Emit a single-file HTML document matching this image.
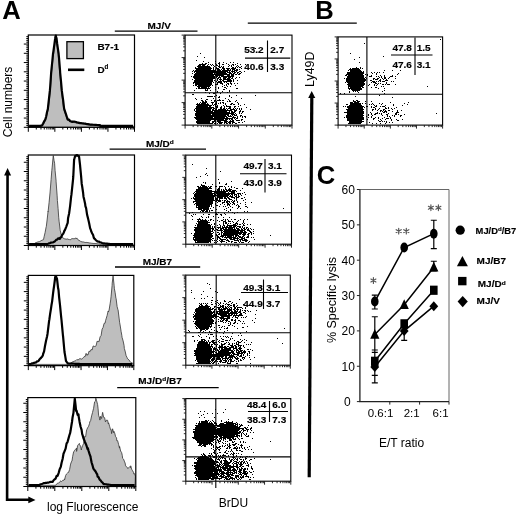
<!DOCTYPE html>
<html><head><meta charset="utf-8"><title>Figure</title>
<style>html,body{margin:0;padding:0;background:#fff;}svg{display:block;will-change:transform;}
text{font-family:"Liberation Sans", sans-serif;fill:#000;}</style></head>
<body><svg width="520" height="515" viewBox="0 0 520 515">
<rect width="520" height="515" fill="#fff"/>
<polygon points="29.1,126.1 30.1,126.1 31.1,126.1 32.1,126.1 33.1,126.1 34.1,126.1 35.1,126.1 36.1,126.1 37.1,126.1 38.1,126.1 39.1,126.1 40.1,126.1 40.4,126.6 41.1,126.1 42.1,126.1 42.4,126.1 43.1,124.85 44.1,123.12 45.1,121.31 45.5,120.6 46.1,118.15 47.1,114.04 48.1,110.15 48.3,109.4 49.1,102.04 50.1,92.78 50.3,91 51.1,79.94 51.6,72.6 52.1,67.93 53.1,57.45 53.5,54.1 54.1,49.29 55.1,42.26 55.4,36.1 55.6,38.6 56.1,38.52 56.1,38.6 57.1,46.02 58.1,53.41 58.2,54.1 59.1,65.62 59.7,72.6 60.1,76.71 61.1,87.68 61.4,91 62.1,96.78 63.1,104.16 63.8,109.4 64.1,110.42 65.1,113.16 66.1,115.91 67.1,119.23 67.4,120.1 68.1,120.45 69.1,120.78 70.1,121.32 71.1,121.86 71.6,122.1 72.1,122.11 73.1,122.34 74.1,122.52 75.1,122.69 76.1,122.82 77.1,123.05 77.6,123.1 78.1,123.24 79.1,123.37 80.1,123.47 81.1,123.72 82.1,123.83 83.1,124.05 84.1,124.14 85.1,124.38 86.1,124.52 87.1,124.65 88.1,124.84 89.1,125.02 89.6,125.1 90.1,125.14 91.1,125.19 92.1,125.26 93.1,125.35 94.1,125.41 95.1,125.49 96.1,125.56 97.1,125.61 98.1,125.7 99.1,125.77 99.6,125.8 100.1,126.1 101.1,126.1 102.1,126.1 103.1,126.1 104.1,126.1 105.1,126.1 106.1,126.1 107.1,126.1 108.1,126.1 109.1,126.1 110.1,126.1 111.1,126.1 112.1,126.1 113.1,126.1 114.1,126.1 115.1,126.1 116.1,126.1 117.1,126.1 118.1,126.1 119.1,126.1 120.1,126.1 121.1,126.1 122.1,126.1 123.1,126.1 124.1,126.1 125.1,126.1 126.1,126.1 127.1,126.1 128.1,126.1 129.1,126.1 130.1,126.1 131.1,126.1 132.1,126.1 133.1,126.1 133.7,127.3 29.1,127.3" fill="#bebebe" stroke="#333" stroke-width="0.8" stroke-linejoin="round"/>
<polyline points="29.1,125.8 30.1,125.8 31.1,125.8 32.1,125.8 33.1,125.8 34.1,125.8 35.1,125.8 36.1,125.8 37.1,125.8 38.1,125.8 39.1,125.8 40,126 40.1,125.8 41.1,125.72 42,125.5 42.1,125.31 43.1,123.5 44.1,121.43 45.1,119.97 45.1,120 46.1,116.81 47.1,111.83 47.9,108.8 48.1,106.36 49.1,97.71 49.9,90.4 50.1,88 51.1,73.51 51.2,72 52.1,63.24 53.1,52.8 53.1,53.5 54.1,46.37 55.1,38.98 55.2,38 55.8,35.5 56.1,37.24 56.5,38 57.1,43.17 58.1,50.15 58.6,53.5 59.1,58.85 60.1,71.28 60.1,72 61.1,82.27 61.8,90.4 62.1,92.85 63.1,99.97 64.1,108.69 64.2,108.8 65.1,111.6 66.1,114.63 67.1,117.73 67.8,119.5 68.1,119.75 69.1,119.72 70.1,121.23 71.1,121.42 72,121.5 72.1,121.84 73.1,121.53 74.1,121.49 75.1,121.73 76.1,121.99 77.1,122.5 78,122.5 78.1,122.66 79.1,122.91 80.1,123.17 81.1,123.09 82.1,123.23 83.1,123.31 84.1,123.48 85.1,123.56 86.1,123.9 87.1,124.05 88.1,124.15 89.1,124.29 90,124.5 90.1,124.54 91.1,124.66 92.1,124.65 93.1,124.73 94.1,124.76 95.1,124.85 96.1,124.91 97.1,124.99 98.1,125.05 99.1,125.15 100,125.2 100.1,125.8 101.1,125.8 102.1,125.8 103.1,125.8 104.1,125.8 105.1,125.8 106.1,125.8 107.1,125.8 108.1,125.8 109.1,125.8 110.1,125.8 111.1,125.8 112.1,125.8 113.1,125.8 114.1,125.8 115.1,125.8 116.1,125.8 117.1,125.8 118.1,125.8 119.1,125.8 120.1,125.8 121.1,125.8 122.1,125.8 123.1,125.8 124.1,125.8 125.1,125.8 126.1,125.8 127.1,125.8 128.1,125.8 129.1,125.8 130.1,125.8 131.1,125.8 132.1,125.8 133.1,125.8" fill="none" stroke="#000" stroke-width="2.2" stroke-linejoin="round"/>
<rect x="28.3" y="35" width="106.2" height="92.3" fill="none" stroke="#000" stroke-width="1.2"/>
<path d="M28.3 127.3v4.5M36.29 127.3v2.2M40.97 127.3v2.2M44.28 127.3v2.2M46.86 127.3v2.2M48.96 127.3v2.2M50.74 127.3v2.2M52.28 127.3v2.2M53.64 127.3v2.2M54.85 127.3v4.5M62.84 127.3v2.2M67.52 127.3v2.2M70.83 127.3v2.2M73.41 127.3v2.2M75.51 127.3v2.2M77.29 127.3v2.2M78.83 127.3v2.2M80.19 127.3v2.2M81.4 127.3v4.5M89.39 127.3v2.2M94.07 127.3v2.2M97.38 127.3v2.2M99.96 127.3v2.2M102.06 127.3v2.2M103.84 127.3v2.2M105.38 127.3v2.2M106.74 127.3v2.2M107.95 127.3v4.5M115.94 127.3v2.2M120.62 127.3v2.2M123.93 127.3v2.2M126.51 127.3v2.2M128.61 127.3v2.2M130.39 127.3v2.2M131.93 127.3v2.2M133.29 127.3v2.2M134.5 127.3v4.5M28.3 127.3h-4.5M28.3 125.45h-2.0M28.3 123.6h-2.0M28.3 121.75h-2.0M28.3 119.9h-2.0M28.3 118.05h-4.5M28.3 116.2h-2.0M28.3 114.35h-2.0M28.3 112.5h-2.0M28.3 110.65h-2.0M28.3 108.8h-4.5M28.3 106.95h-2.0M28.3 105.1h-2.0M28.3 103.25h-2.0M28.3 101.4h-2.0M28.3 99.55h-4.5M28.3 97.7h-2.0M28.3 95.85h-2.0M28.3 94h-2.0M28.3 92.15h-2.0M28.3 90.3h-4.5M28.3 88.45h-2.0M28.3 86.6h-2.0M28.3 84.75h-2.0M28.3 82.9h-2.0M28.3 81.05h-4.5M28.3 79.2h-2.0M28.3 77.35h-2.0M28.3 75.5h-2.0M28.3 73.65h-2.0M28.3 71.8h-4.5M28.3 69.95h-2.0M28.3 68.1h-2.0M28.3 66.25h-2.0M28.3 64.4h-2.0M28.3 62.55h-4.5M28.3 60.7h-2.0M28.3 58.85h-2.0M28.3 57h-2.0M28.3 55.15h-2.0M28.3 53.3h-4.5M28.3 51.45h-2.0M28.3 49.6h-2.0M28.3 47.75h-2.0M28.3 45.9h-2.0M28.3 44.05h-4.5M28.3 42.2h-2.0M28.3 40.35h-2.0M28.3 38.5h-2.0M28.3 36.65h-2.0" stroke="#000" stroke-width="1" fill="none"/>
<polygon points="29.1,244.3 30.1,244.3 31.1,244.3 32.1,244.3 33.1,244.3 34,243.8 34.1,243.77 35.1,243.06 36,242.5 36.1,242.56 37.1,242.24 38.1,241.85 39.1,241.82 39.7,241.5 40.1,241.24 41.1,240.73 42.1,240.11 43.1,239.92 43.5,239.6 44.1,236.77 45.1,232.5 46.1,227.16 46.3,226.6 47.1,220.01 48.1,211.06 48.1,211.6 49.1,202.32 50,193 50.1,191.87 51.1,179.51 51.8,170.6 52.1,167.87 53.1,157.08 53.3,155.7 54.1,160.79 54.6,163.2 55.1,170.63 56.1,180.82 56.1,181.8 57.1,195.15 57.4,200.5 58.1,208.59 58.7,217.2 59.1,221.2 60.1,229.5 60.2,230.3 61.1,234.03 62.1,236.8 62.1,237.13 63.1,237.88 64,238.7 64.1,238.81 65.1,238.82 66.1,239.31 67.1,238.85 68.1,239.23 69.1,239.59 69.6,239.6 70.1,240.01 71.1,239.02 72.1,238.68 73.1,238.61 74.1,238.9 75.1,238.25 76.1,238.1 76.1,238.59 77.1,238.23 78.1,239.9 79.1,240.56 80.1,240.78 80.7,241.5 81.1,241.59 82.1,241.91 83.1,241.9 84.1,242.18 85.1,242.51 86.1,242.4 87.1,242.5 88.1,242.61 89.1,242.91 90.1,243 91.1,243.16 91.9,243.3 92.1,243.31 93.1,243.44 94.1,243.44 95.1,243.51 96.1,243.57 97.1,243.79 98.1,243.84 99.1,243.96 100,244 100.1,244.3 101.1,244.3 102.1,244.3 103.1,244.3 104.1,244.3 105.1,244.3 106.1,244.3 107.1,244.3 108.1,244.3 109.1,244.3 110.1,244.3 111.1,244.3 112.1,244.3 113.1,244.3 114.1,244.3 115.1,244.3 116.1,244.3 117.1,244.3 118.1,244.3 119.1,244.3 120.1,244.3 121.1,244.3 122.1,244.3 123.1,244.3 124.1,244.3 125.1,244.3 126.1,244.3 127.1,244.3 128.1,244.3 129.1,244.3 130.1,244.3 131.1,244.3 132.1,244.3 133.1,244.3 133.7,245.5 29.1,245.5" fill="#bebebe" stroke="#333" stroke-width="0.8" stroke-linejoin="round"/>
<polyline points="29.1,244 30.1,244 31.1,244 32.1,244 33.1,244 34.1,244 35.1,244 36.1,244 37.1,244 38.1,244 39.1,244 40,244.3 40.1,244 41.1,244 42.1,244 43.1,244 44.1,244 45.1,244 46.1,244 47.1,244 47.2,244 48.1,243.73 49.1,243.34 50.1,243.05 51.1,242.54 52.1,242.49 53.1,242.39 54.1,241.8 54.6,241.5 55.1,241.16 56.1,239.92 57.1,239.72 58.1,238.34 59.1,238.84 60.1,238.72 60.2,237.7 61.1,237.3 62.1,235.08 63.1,233.9 64,232.1 64.1,231.36 65.1,229.59 66.1,227.07 67.1,224.36 67.7,222.8 68.1,217.92 69.1,213.49 69.6,209.8 70.1,206.08 71.1,196.8 71.4,194.9 72.1,188.4 73.1,178.87 73.3,176.2 74.1,159.6 74.2,159.5 75.1,156 75.1,156.76 76.1,155.58 77.1,155.04 78.1,156.11 78.9,156 79.1,156.99 80.1,165.63 80.2,166.9 81.1,176.1 81.7,183.7 82.1,185.98 83.1,192.76 83.5,196.7 84.1,199.13 85.1,203.66 85.4,206.1 86.1,208.18 87.1,214.83 88.1,218.62 88.2,219.1 89.1,223.01 90.1,228.1 91,230.3 91.1,231.09 92.1,233.19 93.1,235.09 93.8,237.7 94.1,238.39 95.1,239.22 96.1,240.39 97.1,241.05 97.5,241.5 98.1,241.62 99.1,241.67 100.1,242.41 101.1,242.48 102.1,242.93 103.1,243.3 103.1,243.33 104.1,243.4 105.1,243.5 106.1,243.62 107.1,243.66 108.1,243.81 109.1,243.92 110,244 110.1,244 111.1,244 112.1,244 113.1,244 114.1,244 115.1,244 116.1,244 117.1,244 118.1,244 119.1,244 120.1,244 121.1,244 122.1,244 123.1,244 124.1,244 125.1,244 126.1,244 127.1,244 128.1,244 129.1,244 130.1,244 131.1,244 132.1,244 133.1,244" fill="none" stroke="#000" stroke-width="2.2" stroke-linejoin="round"/>
<rect x="28.3" y="155" width="106.2" height="90.5" fill="none" stroke="#000" stroke-width="1.2"/>
<path d="M28.3 245.5v4.5M36.29 245.5v2.2M40.97 245.5v2.2M44.28 245.5v2.2M46.86 245.5v2.2M48.96 245.5v2.2M50.74 245.5v2.2M52.28 245.5v2.2M53.64 245.5v2.2M54.85 245.5v4.5M62.84 245.5v2.2M67.52 245.5v2.2M70.83 245.5v2.2M73.41 245.5v2.2M75.51 245.5v2.2M77.29 245.5v2.2M78.83 245.5v2.2M80.19 245.5v2.2M81.4 245.5v4.5M89.39 245.5v2.2M94.07 245.5v2.2M97.38 245.5v2.2M99.96 245.5v2.2M102.06 245.5v2.2M103.84 245.5v2.2M105.38 245.5v2.2M106.74 245.5v2.2M107.95 245.5v4.5M115.94 245.5v2.2M120.62 245.5v2.2M123.93 245.5v2.2M126.51 245.5v2.2M128.61 245.5v2.2M130.39 245.5v2.2M131.93 245.5v2.2M133.29 245.5v2.2M134.5 245.5v4.5M28.3 245.5h-4.5M28.3 243.65h-2.0M28.3 241.8h-2.0M28.3 239.95h-2.0M28.3 238.1h-2.0M28.3 236.25h-4.5M28.3 234.4h-2.0M28.3 232.55h-2.0M28.3 230.7h-2.0M28.3 228.85h-2.0M28.3 227h-4.5M28.3 225.15h-2.0M28.3 223.3h-2.0M28.3 221.45h-2.0M28.3 219.6h-2.0M28.3 217.75h-4.5M28.3 215.9h-2.0M28.3 214.05h-2.0M28.3 212.2h-2.0M28.3 210.35h-2.0M28.3 208.5h-4.5M28.3 206.65h-2.0M28.3 204.8h-2.0M28.3 202.95h-2.0M28.3 201.1h-2.0M28.3 199.25h-4.5M28.3 197.4h-2.0M28.3 195.55h-2.0M28.3 193.7h-2.0M28.3 191.85h-2.0M28.3 190h-4.5M28.3 188.15h-2.0M28.3 186.3h-2.0M28.3 184.45h-2.0M28.3 182.6h-2.0M28.3 180.75h-4.5M28.3 178.9h-2.0M28.3 177.05h-2.0M28.3 175.2h-2.0M28.3 173.35h-2.0M28.3 171.5h-4.5M28.3 169.65h-2.0M28.3 167.8h-2.0M28.3 165.95h-2.0M28.3 164.1h-2.0M28.3 162.25h-4.5M28.3 160.4h-2.0M28.3 158.55h-2.0M28.3 156.7h-2.0" stroke="#000" stroke-width="1" fill="none"/>
<polygon points="29.1,364.4 30.1,364.4 31.1,364.4 32.1,364.4 33.1,364.4 34.1,364.4 35.1,364.4 36.1,364.4 37.1,364.4 38.1,364.4 39.1,364.4 40.1,364.4 41.1,364.4 42.1,364.4 43.1,364.4 44.1,364.4 45.1,364.4 46.1,364.4 47.1,364.4 48.1,364.4 49.1,364.4 50.1,364.4 51.1,364.4 52.1,364.4 53.1,364.4 54.1,364.4 55.1,364.4 56.1,364.4 57.1,364.4 58.1,364.4 59.1,364.4 60.1,364.4 61.1,364.4 62.1,364.4 63.1,364.4 64.1,364.4 65.1,364.4 66.1,364.4 67.1,364.4 68.1,364.4 69.1,364.4 70,363.5 70.1,363.51 71.1,362.8 72.1,362.07 73.1,361.73 74.1,361.13 75.1,361.11 76.1,360.33 76.8,359.6 77.1,359.64 78.1,359.93 79.1,359.08 80.1,358.51 81.1,359.16 82.1,358.99 82.4,358.6 83.1,357.89 84.1,356.64 85.1,356.57 86.1,353.36 87.1,355.41 88,354 88.1,354.38 89.1,351.09 90.1,351.64 91.1,349.46 92.1,350.03 93.1,346.08 94.1,346.05 94.5,346.5 95.1,346.49 96.1,345.74 97.1,341.23 98.1,341.7 99.1,341 99.1,341.33 100.1,336.85 101.1,335.51 102.1,329.19 102.8,327.9 103.1,327.45 104.1,323.37 105.1,323.15 105.6,320.4 106.1,318.88 107.1,315.53 108.1,311.18 108.4,312 109.1,310 110.1,303.81 110.7,299.9 111.1,296.2 112.1,285.45 112.2,283.2 113.1,275.9 113.1,276.25 114.1,285.18 114.4,288.8 115.1,292.34 115.9,298.1 116.1,298.48 117.1,306.54 117.8,309.3 118.1,310.01 119.1,318.09 119.6,322.3 120.1,324.93 121.1,331.39 121.8,335.3 122.1,337.45 123.1,340.86 124.1,345.62 124.3,348.4 125.1,351.05 126.1,355.59 127.1,357.7 127.1,358.21 128.1,359.09 129.1,360.11 130.1,361.6 130.8,362.4 131.1,362.48 132.1,363.05 133,363.3 133,365.6 29.1,365.6" fill="#bebebe" stroke="#333" stroke-width="0.8" stroke-linejoin="round"/>
<polyline points="29.1,364.1 30,364 30.1,363.96 31.1,363.74 32.1,363.42 33.1,363.29 34.1,362.85 35.1,362.66 36,362.5 36.1,362.36 37.1,361.42 38.1,361.28 39,360.5 39.1,359.97 40.1,358.67 41,358 41.1,357.6 42.1,356.75 43,355 43.1,354.01 44.1,351.44 45,346 45.1,345.5 46.1,340.52 47.1,336.23 47.5,334 48.1,329.24 49.1,320.82 49.3,320 50.1,314.16 51.1,307.84 51.5,305 52.1,301.6 53.1,293.18 53.5,290 54.1,285.93 55,279 55.1,277.18 56,276.5 56.1,276.56 57,279 57.1,279.71 58.1,288.3 58.5,290 59.1,297.12 60,305 60.1,306.08 61.1,316.37 61.5,320 62.1,326.35 63,336 63.1,336.56 64.1,347.74 64.5,352 65.1,355.38 66,361 66.1,361.19 67.1,362.46 68,363.5 68.1,363.5 69.1,363.59 70.1,363.55 71.1,363.63 72.1,363.68 73.1,363.66 74.1,363.77 75.1,363.81 76.1,363.87 77.1,363.88 78.1,363.93 79.1,363.97 80,364 80.1,364.1 81.1,364.1 82.1,364.1 83.1,364.1 84.1,364.1 85.1,364.1 86.1,364.1 87.1,364.1 88.1,364.1 89.1,364.1 90.1,364.1 91.1,364.1 92.1,364.1 93.1,364.1 94.1,364.1 95.1,364.1 96.1,364.1 97.1,364.1 98.1,364.1 99.1,364.1 100.1,364.1 101.1,364.1 102.1,364.1 103.1,364.1 104.1,364.1 105.1,364.1 106.1,364.1 107.1,364.1 108.1,364.1 109.1,364.1 110.1,364.1 111.1,364.1 112.1,364.1 113.1,364.1 114.1,364.1 115.1,364.1 116.1,364.1 117.1,364.1 118.1,364.1 119.1,364.1 120.1,364.1 121.1,364.1 122.1,364.1 123.1,364.1 124.1,364.1 125.1,364.1 126.1,364.1 127.1,364.1 128.1,364.1 129.1,364.1 130.1,364.1 131.1,364.1 132.1,364.1" fill="none" stroke="#000" stroke-width="2.2" stroke-linejoin="round"/>
<rect x="28.3" y="275.4" width="105.5" height="90.2" fill="none" stroke="#000" stroke-width="1.2"/>
<path d="M28.3 365.6v4.5M36.24 365.6v2.2M40.88 365.6v2.2M44.18 365.6v2.2M46.74 365.6v2.2M48.82 365.6v2.2M50.59 365.6v2.2M52.12 365.6v2.2M53.47 365.6v2.2M54.68 365.6v4.5M62.61 365.6v2.2M67.26 365.6v2.2M70.55 365.6v2.2M73.11 365.6v2.2M75.2 365.6v2.2M76.96 365.6v2.2M78.49 365.6v2.2M79.84 365.6v2.2M81.05 365.6v4.5M88.99 365.6v2.2M93.63 365.6v2.2M96.93 365.6v2.2M99.49 365.6v2.2M101.57 365.6v2.2M103.34 365.6v2.2M104.87 365.6v2.2M106.22 365.6v2.2M107.43 365.6v4.5M115.36 365.6v2.2M120.01 365.6v2.2M123.3 365.6v2.2M125.86 365.6v2.2M127.95 365.6v2.2M129.71 365.6v2.2M131.24 365.6v2.2M132.59 365.6v2.2M133.8 365.6v4.5M28.3 365.6h-4.5M28.3 363.75h-2.0M28.3 361.9h-2.0M28.3 360.05h-2.0M28.3 358.2h-2.0M28.3 356.35h-4.5M28.3 354.5h-2.0M28.3 352.65h-2.0M28.3 350.8h-2.0M28.3 348.95h-2.0M28.3 347.1h-4.5M28.3 345.25h-2.0M28.3 343.4h-2.0M28.3 341.55h-2.0M28.3 339.7h-2.0M28.3 337.85h-4.5M28.3 336h-2.0M28.3 334.15h-2.0M28.3 332.3h-2.0M28.3 330.45h-2.0M28.3 328.6h-4.5M28.3 326.75h-2.0M28.3 324.9h-2.0M28.3 323.05h-2.0M28.3 321.2h-2.0M28.3 319.35h-4.5M28.3 317.5h-2.0M28.3 315.65h-2.0M28.3 313.8h-2.0M28.3 311.95h-2.0M28.3 310.1h-4.5M28.3 308.25h-2.0M28.3 306.4h-2.0M28.3 304.55h-2.0M28.3 302.7h-2.0M28.3 300.85h-4.5M28.3 299h-2.0M28.3 297.15h-2.0M28.3 295.3h-2.0M28.3 293.45h-2.0M28.3 291.6h-4.5M28.3 289.75h-2.0M28.3 287.9h-2.0M28.3 286.05h-2.0M28.3 284.2h-2.0M28.3 282.35h-4.5M28.3 280.5h-2.0M28.3 278.65h-2.0M28.3 276.8h-2.0" stroke="#000" stroke-width="1" fill="none"/>
<polygon points="28.6,485.3 29.6,485.3 30.6,485.3 31.6,485.3 32.6,485.3 33.6,485.3 34.6,485.3 35.6,485.3 36.6,485.3 37.6,485.3 38.6,485.3 39.6,485.3 40.6,485.3 41.6,485.3 42.6,485.3 43.6,485.3 44.6,485.3 45.6,485.3 46.6,485.3 47.6,485.3 48.6,485.3 49.6,485.3 50.6,485.3 51.6,485.3 52.6,485.3 53.6,485.3 54.6,485.3 55.6,485.3 56,484.5 56.6,484.34 57.6,483.16 58,483.5 58.6,482.95 59.6,482.47 60.6,480.8 61.6,481.64 62.6,480.39 63.6,480.47 64.5,478.9 64.6,479.73 65.6,475.63 66.6,473.88 67.6,473.04 68.2,472.3 68.6,472.32 69.6,469.54 70.6,464.09 71.6,461.31 72,461.1 72.6,456.72 73.6,451.9 73.8,451.8 74.6,450.36 75.6,449.21 76.6,448.1 76.6,451.39 77.6,445.61 78.6,444.28 79.4,443.4 79.6,444.83 80.6,446.04 81.3,450 81.6,448.4 82.6,445.66 83.6,443.52 84.1,440.6 84.6,436.49 85.6,436.79 86.6,430.04 86.9,429.4 87.6,427.82 88.6,426.26 89.6,423.32 89.7,422 90.6,420.67 91.6,415.9 92.5,412.6 92.6,412.13 93.6,408.31 94.6,401.84 95.6,401.02 95.8,398.2 96.6,400.68 97.6,404.56 98.1,408.9 98.6,415.3 99.6,418.02 99.9,420.1 100.6,416.34 101.6,418.51 102.6,412.34 102.7,412.6 103.6,417.32 104.6,417.65 105.5,422 105.6,421.67 106.6,420.01 107.6,420.3 108.3,423.8 108.6,422.84 109.6,426.28 110.6,429.68 111.1,429.4 111.6,433.62 112.6,428.77 113.6,432.71 113.9,431.3 114.6,432.66 115.6,436.7 116.6,437.9 116.7,440.6 117.6,440.64 118.6,444.44 119.5,448.1 119.6,446.46 120.6,451 121.6,452.53 122.3,455.5 122.6,458.3 123.6,459.23 124.6,461.93 125.1,463 125.6,465.82 126.6,466.83 127.6,467.94 127.9,468.6 128.6,467.75 129.6,466.71 130.6,467.62 130.7,465.8 131.6,469.14 132.6,470.8 133.5,472.3 133.6,473.78 134.6,473.63 135.4,476.1 135,486.5 28.6,486.5" fill="#bebebe" stroke="#333" stroke-width="0.8" stroke-linejoin="round"/>
<polyline points="28.6,485 29.6,485 30.6,485 31.6,485 32.6,485 33.6,485 34.6,485 35.6,485 36.6,485 37.6,485 38.6,485 39.6,485 40,484.5 40.6,484.29 41.6,484.01 42.6,483.67 43.6,483.12 44,483.1 44.6,483.25 45.6,482.88 46.6,482.82 47.6,482.56 48.6,482.65 49.6,482.1 50.6,481.87 51.6,481.92 52.4,481.7 52.6,481.81 53.6,480.27 54.6,479.46 55.6,478.67 56.6,475.88 57.1,476.1 57.6,475.81 58.6,473.1 59.6,469.42 60.6,467.18 60.8,466.7 61.6,462.67 62.6,458.94 63.6,453.28 63.6,453.7 64.6,451.14 65.6,448.64 66.6,443.41 67.3,442.5 67.6,441.82 68.6,438.15 69.6,434.53 70.1,433.2 70.6,430.58 71.6,424.28 72,422 72.6,417.17 73.5,412.6 73.6,411.12 74.6,400.83 74.8,398.7 75.6,405.63 76.1,410.8 76.6,410.64 77.6,414.86 78.5,414.5 78.6,416.12 79.6,421.91 80.4,425.7 80.6,426.72 81.6,429.86 82.2,434.1 82.6,435.11 83.6,438.68 84.6,440.99 85,442.5 85.6,443.29 86.6,445.95 87.6,449.2 87.8,448.1 88.6,450.99 89.6,454.19 90.6,456.92 90.6,457.4 91.6,462.51 92.6,465.69 93.4,468.6 93.6,468.93 94.6,470.23 95.6,471.52 96.6,473.57 97.2,474.2 97.6,476.57 98.6,477.23 99.6,479.47 99.9,479.8 100.6,480.39 101.6,481.79 102.6,482.59 103.6,484.02 103.7,484 104.6,484.09 105.6,484.28 106.6,484.38 107.6,484.55 108.6,484.64 109.6,484.76 110,484.8 110.6,485 111.6,485 112.6,485 113.6,485 114.6,485 115.6,485 116.6,485 117.6,485 118.6,485 119.6,485 120.6,485 121.6,485 122.6,485 123.6,485 124.6,485 125.6,485 126.6,485 127.6,485 128.6,485 129.6,485 130.6,485 131.6,485 132.6,485 133.6,485 134.6,485" fill="none" stroke="#000" stroke-width="2.2" stroke-linejoin="round"/>
<rect x="27.8" y="397.6" width="108" height="88.9" fill="none" stroke="#000" stroke-width="1.2"/>
<path d="M27.8 486.5v4.5M35.93 486.5v2.2M40.68 486.5v2.2M44.06 486.5v2.2M46.67 486.5v2.2M48.81 486.5v2.2M50.62 486.5v2.2M52.18 486.5v2.2M53.56 486.5v2.2M54.8 486.5v4.5M62.93 486.5v2.2M67.68 486.5v2.2M71.06 486.5v2.2M73.67 486.5v2.2M75.81 486.5v2.2M77.62 486.5v2.2M79.18 486.5v2.2M80.56 486.5v2.2M81.8 486.5v4.5M89.93 486.5v2.2M94.68 486.5v2.2M98.06 486.5v2.2M100.67 486.5v2.2M102.81 486.5v2.2M104.62 486.5v2.2M106.18 486.5v2.2M107.56 486.5v2.2M108.8 486.5v4.5M116.93 486.5v2.2M121.68 486.5v2.2M125.06 486.5v2.2M127.67 486.5v2.2M129.81 486.5v2.2M131.62 486.5v2.2M133.18 486.5v2.2M134.56 486.5v2.2M135.8 486.5v4.5M27.8 486.5h-4.5M27.8 484.65h-2.0M27.8 482.8h-2.0M27.8 480.95h-2.0M27.8 479.1h-2.0M27.8 477.25h-4.5M27.8 475.4h-2.0M27.8 473.55h-2.0M27.8 471.7h-2.0M27.8 469.85h-2.0M27.8 468h-4.5M27.8 466.15h-2.0M27.8 464.3h-2.0M27.8 462.45h-2.0M27.8 460.6h-2.0M27.8 458.75h-4.5M27.8 456.9h-2.0M27.8 455.05h-2.0M27.8 453.2h-2.0M27.8 451.35h-2.0M27.8 449.5h-4.5M27.8 447.65h-2.0M27.8 445.8h-2.0M27.8 443.95h-2.0M27.8 442.1h-2.0M27.8 440.25h-4.5M27.8 438.4h-2.0M27.8 436.55h-2.0M27.8 434.7h-2.0M27.8 432.85h-2.0M27.8 431h-4.5M27.8 429.15h-2.0M27.8 427.3h-2.0M27.8 425.45h-2.0M27.8 423.6h-2.0M27.8 421.75h-4.5M27.8 419.9h-2.0M27.8 418.05h-2.0M27.8 416.2h-2.0M27.8 414.35h-2.0M27.8 412.5h-4.5M27.8 410.65h-2.0M27.8 408.8h-2.0M27.8 406.95h-2.0M27.8 405.1h-2.0M27.8 403.25h-4.5M27.8 401.4h-2.0M27.8 399.55h-2.0" stroke="#000" stroke-width="1" fill="none"/>
<path d="M255 48h1v1h-1zM200 53h1v1h-1zM197 56h1v1h-1zM204 57h1v1h-1zM196 60h1v1h-1zM203 61h1v1h-1zM215 61h1v1h-1zM208 62h1v1h-1zM219 62h1v1h-1zM223 62h1v1h-1zM230 62h1v1h-1zM233 62h1v1h-1zM202 63h1v1h-1zM205 63h2v1h-2zM215 63h1v1h-1zM218 63h2v1h-2zM226 63h1v1h-1zM237 63h1v1h-1zM199 64h7v1h-7zM208 64h1v1h-1zM210 64h1v1h-1zM212 64h1v1h-1zM216 64h1v1h-1zM219 64h1v1h-1zM222 64h2v1h-2zM228 64h1v1h-1zM232 64h2v1h-2zM235 64h1v1h-1zM240 64h1v1h-1zM245 64h1v1h-1zM198 65h3v1h-3zM202 65h3v1h-3zM207 65h1v1h-1zM211 65h1v1h-1zM213 65h1v1h-1zM216 65h2v1h-2zM219 65h1v1h-1zM229 65h1v1h-1zM231 65h1v1h-1zM233 65h1v1h-1zM237 65h1v1h-1zM197 66h13v1h-13zM214 66h1v1h-1zM218 66h2v1h-2zM221 66h1v1h-1zM223 66h1v1h-1zM228 66h1v1h-1zM231 66h1v1h-1zM236 66h1v1h-1zM238 66h1v1h-1zM241 66h1v1h-1zM281 66h1v1h-1zM195 67h1v1h-1zM198 67h13v1h-13zM213 67h1v1h-1zM216 67h1v1h-1zM219 67h2v1h-2zM222 67h2v1h-2zM232 67h2v1h-2zM235 67h1v1h-1zM237 67h1v1h-1zM239 67h2v1h-2zM195 68h17v1h-17zM213 68h1v1h-1zM216 68h3v1h-3zM222 68h3v1h-3zM226 68h4v1h-4zM231 68h5v1h-5zM241 68h1v1h-1zM196 69h15v1h-15zM213 69h1v1h-1zM215 69h1v1h-1zM217 69h3v1h-3zM221 69h1v1h-1zM223 69h2v1h-2zM227 69h2v1h-2zM230 69h1v1h-1zM232 69h3v1h-3zM236 69h2v1h-2zM239 69h1v1h-1zM193 70h1v1h-1zM195 70h21v1h-21zM217 70h4v1h-4zM222 70h9v1h-9zM232 70h1v1h-1zM234 70h4v1h-4zM192 71h1v1h-1zM194 71h34v1h-34zM229 71h1v1h-1zM231 71h4v1h-4zM236 71h1v1h-1zM239 71h2v1h-2zM244 71h1v1h-1zM194 72h1v1h-1zM196 72h30v1h-30zM227 72h4v1h-4zM232 72h1v1h-1zM234 72h2v1h-2zM237 72h2v1h-2zM241 72h1v1h-1zM192 73h1v1h-1zM195 73h18v1h-18zM214 73h1v1h-1zM216 73h11v1h-11zM229 73h3v1h-3zM233 73h2v1h-2zM237 73h1v1h-1zM239 73h2v1h-2zM194 74h36v1h-36zM231 74h3v1h-3zM235 74h2v1h-2zM238 74h2v1h-2zM194 75h20v1h-20zM215 75h9v1h-9zM227 75h3v1h-3zM231 75h3v1h-3zM191 76h1v1h-1zM193 76h22v1h-22zM216 76h2v1h-2zM219 76h1v1h-1zM221 76h13v1h-13zM193 77h22v1h-22zM216 77h1v1h-1zM218 77h3v1h-3zM223 77h4v1h-4zM228 77h3v1h-3zM232 77h1v1h-1zM236 77h1v1h-1zM239 77h1v1h-1zM194 78h21v1h-21zM217 78h2v1h-2zM220 78h1v1h-1zM223 78h3v1h-3zM227 78h3v1h-3zM231 78h2v1h-2zM235 78h1v1h-1zM192 79h1v1h-1zM195 79h18v1h-18zM217 79h1v1h-1zM219 79h3v1h-3zM223 79h8v1h-8zM233 79h1v1h-1zM194 80h19v1h-19zM214 80h1v1h-1zM217 80h1v1h-1zM220 80h1v1h-1zM222 80h2v1h-2zM227 80h5v1h-5zM233 80h1v1h-1zM237 80h1v1h-1zM194 81h19v1h-19zM216 81h1v1h-1zM218 81h4v1h-4zM223 81h9v1h-9zM233 81h1v1h-1zM193 82h19v1h-19zM213 82h1v1h-1zM217 82h5v1h-5zM224 82h1v1h-1zM226 82h1v1h-1zM230 82h1v1h-1zM193 83h1v1h-1zM195 83h17v1h-17zM217 83h1v1h-1zM220 83h3v1h-3zM227 83h2v1h-2zM230 83h2v1h-2zM234 83h1v1h-1zM237 83h1v1h-1zM195 84h17v1h-17zM215 84h3v1h-3zM222 84h1v1h-1zM226 84h1v1h-1zM228 84h1v1h-1zM231 84h1v1h-1zM193 85h1v1h-1zM195 85h2v1h-2zM198 85h13v1h-13zM212 85h1v1h-1zM224 85h1v1h-1zM226 85h1v1h-1zM235 85h1v1h-1zM197 86h13v1h-13zM222 86h1v1h-1zM227 86h1v1h-1zM230 86h1v1h-1zM198 87h2v1h-2zM201 87h6v1h-6zM208 87h1v1h-1zM210 87h1v1h-1zM215 87h1v1h-1zM218 87h1v1h-1zM224 87h2v1h-2zM196 88h1v1h-1zM198 88h12v1h-12zM218 88h1v1h-1zM226 88h1v1h-1zM236 88h2v1h-2zM205 89h1v1h-1zM207 89h1v1h-1zM215 89h1v1h-1zM223 89h2v1h-2zM194 90h1v1h-1zM205 90h3v1h-3zM210 90h1v1h-1zM229 90h1v1h-1zM217 91h1v1h-1zM222 91h1v1h-1zM229 91h1v1h-1zM205 92h1v1h-1zM217 92h1v1h-1zM227 92h1v1h-1zM209 93h1v1h-1zM213 93h2v1h-2zM220 93h1v1h-1zM192 94h2v1h-2zM216 95h1v1h-1zM229 95h1v1h-1zM236 95h1v1h-1zM255 95h1v1h-1zM207 96h6v1h-6zM214 96h1v1h-1zM219 96h1v1h-1zM229 96h1v1h-1zM218 97h2v1h-2zM231 97h1v1h-1zM195 98h1v1h-1zM201 98h1v1h-1zM213 98h1v1h-1zM225 98h1v1h-1zM241 98h1v1h-1zM196 99h1v1h-1zM206 99h2v1h-2zM219 99h1v1h-1zM228 99h1v1h-1zM201 100h2v1h-2zM205 100h1v1h-1zM211 100h1v1h-1zM214 100h2v1h-2zM217 100h4v1h-4zM222 100h2v1h-2zM229 100h1v1h-1zM236 100h1v1h-1zM202 101h2v1h-2zM205 101h2v1h-2zM214 101h1v1h-1zM216 101h1v1h-1zM227 101h1v1h-1zM229 101h2v1h-2zM235 101h1v1h-1zM200 102h1v1h-1zM202 102h5v1h-5zM211 102h3v1h-3zM216 102h1v1h-1zM220 102h1v1h-1zM222 102h2v1h-2zM237 102h1v1h-1zM197 103h1v1h-1zM199 103h1v1h-1zM201 103h5v1h-5zM207 103h1v1h-1zM212 103h1v1h-1zM215 103h2v1h-2zM218 103h1v1h-1zM220 103h1v1h-1zM223 103h1v1h-1zM225 103h1v1h-1zM231 103h2v1h-2zM238 103h1v1h-1zM196 104h13v1h-13zM212 104h1v1h-1zM214 104h3v1h-3zM225 104h1v1h-1zM230 104h2v1h-2zM233 104h2v1h-2zM238 104h1v1h-1zM244 104h1v1h-1zM197 105h15v1h-15zM213 105h1v1h-1zM215 105h1v1h-1zM217 105h1v1h-1zM223 105h1v1h-1zM226 105h1v1h-1zM240 105h1v1h-1zM196 106h12v1h-12zM209 106h2v1h-2zM215 106h3v1h-3zM221 106h1v1h-1zM224 106h1v1h-1zM226 106h5v1h-5zM234 106h2v1h-2zM238 106h1v1h-1zM196 107h18v1h-18zM216 107h2v1h-2zM220 107h2v1h-2zM224 107h1v1h-1zM229 107h2v1h-2zM234 107h1v1h-1zM246 107h1v1h-1zM195 108h17v1h-17zM213 108h2v1h-2zM216 108h1v1h-1zM220 108h2v1h-2zM223 108h2v1h-2zM226 108h1v1h-1zM228 108h3v1h-3zM233 108h1v1h-1zM235 108h1v1h-1zM237 108h1v1h-1zM239 108h1v1h-1zM241 108h1v1h-1zM194 109h1v1h-1zM196 109h15v1h-15zM212 109h2v1h-2zM215 109h2v1h-2zM218 109h8v1h-8zM227 109h1v1h-1zM230 109h5v1h-5zM236 109h1v1h-1zM239 109h1v1h-1zM241 109h1v1h-1zM250 109h1v1h-1zM194 110h1v1h-1zM196 110h15v1h-15zM212 110h20v1h-20zM234 110h3v1h-3zM240 110h1v1h-1zM195 111h18v1h-18zM214 111h13v1h-13zM229 111h1v1h-1zM231 111h2v1h-2zM234 111h2v1h-2zM239 111h2v1h-2zM242 111h2v1h-2zM196 112h34v1h-34zM231 112h4v1h-4zM239 112h1v1h-1zM242 112h1v1h-1zM195 113h39v1h-39zM235 113h1v1h-1zM239 113h1v1h-1zM241 113h1v1h-1zM195 114h16v1h-16zM212 114h17v1h-17zM231 114h4v1h-4zM236 114h1v1h-1zM195 115h31v1h-31zM227 115h2v1h-2zM230 115h1v1h-1zM232 115h1v1h-1zM234 115h3v1h-3zM240 115h2v1h-2zM196 116h31v1h-31zM228 116h4v1h-4zM233 116h1v1h-1zM237 116h1v1h-1zM240 116h1v1h-1zM242 116h1v1h-1zM244 116h2v1h-2zM194 117h19v1h-19zM214 117h11v1h-11zM226 117h2v1h-2zM232 117h4v1h-4zM237 117h1v1h-1zM242 117h1v1h-1zM245 117h1v1h-1zM195 118h38v1h-38zM234 118h1v1h-1zM236 118h2v1h-2zM196 119h28v1h-28zM225 119h3v1h-3zM229 119h1v1h-1zM231 119h2v1h-2zM235 119h1v1h-1zM241 119h2v1h-2zM197 120h14v1h-14zM214 120h2v1h-2zM217 120h10v1h-10zM230 120h1v1h-1zM232 120h2v1h-2zM236 120h4v1h-4zM241 120h1v1h-1zM196 121h14v1h-14zM212 121h4v1h-4zM217 121h4v1h-4zM224 121h4v1h-4zM229 121h5v1h-5zM244 121h1v1h-1zM196 122h14v1h-14zM212 122h2v1h-2zM215 122h1v1h-1zM218 122h5v1h-5zM224 122h3v1h-3zM228 122h3v1h-3zM232 122h3v1h-3zM238 122h2v1h-2zM242 122h1v1h-1zM197 123h16v1h-16zM214 123h2v1h-2zM217 123h1v1h-1zM219 123h3v1h-3zM224 123h1v1h-1zM226 123h2v1h-2zM229 123h2v1h-2zM232 123h1v1h-1zM235 123h2v1h-2z" fill="#000"/>
<rect x="185.1" y="35.1" width="106.9" height="90" fill="none" stroke="#000" stroke-width="1.1"/>
<path d="M215.8 35.1V125.1 M185.1 92.8H292" stroke="#000" stroke-width="1.1"/>
<path d="M185.1 125.1v3.5M193.15 125.1v2M197.85 125.1v2M201.19 125.1v2M203.78 125.1v2M205.9 125.1v2M207.69 125.1v2M209.24 125.1v2M210.6 125.1v2M211.82 125.1v3.5M219.87 125.1v2M224.58 125.1v2M227.92 125.1v2M230.5 125.1v2M232.62 125.1v2M234.41 125.1v2M235.96 125.1v2M237.33 125.1v2M238.55 125.1v3.5M246.6 125.1v2M251.3 125.1v2M254.64 125.1v2M257.23 125.1v2M259.35 125.1v2M261.14 125.1v2M262.69 125.1v2M264.05 125.1v2M265.27 125.1v3.5M273.32 125.1v2M278.03 125.1v2M281.37 125.1v2M283.95 125.1v2M286.07 125.1v2M287.86 125.1v2M289.41 125.1v2M290.78 125.1v2M292 125.1v3.5M185.1 125.1h-3.5M185.1 118.33h-2M185.1 114.36h-2M185.1 111.55h-2M185.1 109.37h-2M185.1 107.59h-2M185.1 106.09h-2M185.1 104.78h-2M185.1 103.63h-2M185.1 102.6h-3.5M185.1 95.83h-2M185.1 91.86h-2M185.1 89.05h-2M185.1 86.87h-2M185.1 85.09h-2M185.1 83.59h-2M185.1 82.28h-2M185.1 81.13h-2M185.1 80.1h-3.5M185.1 73.33h-2M185.1 69.36h-2M185.1 66.55h-2M185.1 64.37h-2M185.1 62.59h-2M185.1 61.09h-2M185.1 59.78h-2M185.1 58.63h-2M185.1 57.6h-3.5M185.1 50.83h-2M185.1 46.86h-2M185.1 44.05h-2M185.1 41.87h-2M185.1 40.09h-2M185.1 38.59h-2M185.1 37.28h-2M185.1 36.13h-2M185.1 35.1h-3.5" stroke="#111" stroke-width="0.9" fill="none"/>
<path d="M245 58.1H290.3 M267.5 40.4V72" stroke="#000" stroke-width="1.1"/>
<text transform="translate(263.6,53.3) scale(1.087,1)" font-size="9.2" font-weight="bold" stroke="#000" stroke-width="0.15" text-anchor="end">53.2</text>
<text transform="translate(270.3,53.3) scale(1.087,1)" font-size="9.2" font-weight="bold" stroke="#000" stroke-width="0.15">2.7</text>
<text transform="translate(263.6,70.3) scale(1.087,1)" font-size="9.2" font-weight="bold" stroke="#000" stroke-width="0.15" text-anchor="end">40.6</text>
<text transform="translate(270.3,70.3) scale(1.087,1)" font-size="9.2" font-weight="bold" stroke="#000" stroke-width="0.15">3.3</text>
<path d="M192 164h1v1h-1zM206 168h1v1h-1zM220 171h1v1h-1zM206 173h1v1h-1zM205 174h1v1h-1zM207 175h1v1h-1zM200 176h1v1h-1zM196 177h1v1h-1zM218 179h1v1h-1zM231 181h1v1h-1zM203 182h1v1h-1zM205 182h1v1h-1zM219 182h1v1h-1zM205 183h1v1h-1zM219 183h1v1h-1zM226 183h1v1h-1zM201 184h1v1h-1zM212 184h1v1h-1zM225 184h2v1h-2zM256 184h1v1h-1zM201 185h4v1h-4zM197 186h2v1h-2zM200 186h1v1h-1zM202 186h5v1h-5zM208 186h1v1h-1zM210 186h2v1h-2zM215 186h2v1h-2zM219 186h4v1h-4zM224 186h1v1h-1zM228 186h1v1h-1zM231 186h1v1h-1zM198 187h10v1h-10zM209 187h2v1h-2zM219 187h1v1h-1zM225 187h1v1h-1zM231 187h1v1h-1zM234 187h1v1h-1zM198 188h14v1h-14zM218 188h2v1h-2zM225 188h1v1h-1zM229 188h1v1h-1zM236 188h2v1h-2zM242 188h1v1h-1zM196 189h13v1h-13zM217 189h3v1h-3zM221 189h1v1h-1zM223 189h1v1h-1zM225 189h2v1h-2zM228 189h4v1h-4zM196 190h16v1h-16zM215 190h1v1h-1zM217 190h3v1h-3zM221 190h1v1h-1zM223 190h2v1h-2zM226 190h5v1h-5zM232 190h4v1h-4zM240 190h1v1h-1zM195 191h33v1h-33zM229 191h6v1h-6zM236 191h1v1h-1zM194 192h1v1h-1zM196 192h16v1h-16zM214 192h12v1h-12zM228 192h1v1h-1zM231 192h4v1h-4zM244 192h1v1h-1zM193 193h1v1h-1zM195 193h20v1h-20zM216 193h19v1h-19zM237 193h4v1h-4zM242 193h1v1h-1zM194 194h19v1h-19zM214 194h2v1h-2zM217 194h13v1h-13zM231 194h2v1h-2zM234 194h3v1h-3zM238 194h1v1h-1zM240 194h1v1h-1zM245 194h1v1h-1zM194 195h35v1h-35zM230 195h1v1h-1zM232 195h1v1h-1zM234 195h1v1h-1zM236 195h1v1h-1zM238 195h1v1h-1zM241 195h1v1h-1zM194 196h21v1h-21zM217 196h11v1h-11zM229 196h4v1h-4zM235 196h2v1h-2zM238 196h2v1h-2zM193 197h1v1h-1zM195 197h19v1h-19zM215 197h1v1h-1zM217 197h6v1h-6zM224 197h2v1h-2zM227 197h2v1h-2zM231 197h4v1h-4zM236 197h3v1h-3zM244 197h1v1h-1zM191 198h1v1h-1zM193 198h21v1h-21zM215 198h3v1h-3zM219 198h4v1h-4zM224 198h3v1h-3zM228 198h2v1h-2zM234 198h1v1h-1zM236 198h1v1h-1zM241 198h2v1h-2zM194 199h20v1h-20zM215 199h3v1h-3zM219 199h1v1h-1zM226 199h1v1h-1zM229 199h3v1h-3zM236 199h1v1h-1zM245 199h1v1h-1zM195 200h20v1h-20zM216 200h5v1h-5zM222 200h1v1h-1zM224 200h2v1h-2zM227 200h1v1h-1zM232 200h1v1h-1zM234 200h1v1h-1zM236 200h1v1h-1zM243 200h1v1h-1zM193 201h20v1h-20zM215 201h2v1h-2zM218 201h3v1h-3zM224 201h1v1h-1zM226 201h4v1h-4zM231 201h1v1h-1zM233 201h2v1h-2zM237 201h1v1h-1zM193 202h1v1h-1zM196 202h17v1h-17zM217 202h1v1h-1zM222 202h3v1h-3zM226 202h2v1h-2zM229 202h1v1h-1zM232 202h2v1h-2zM237 202h1v1h-1zM245 202h1v1h-1zM251 202h1v1h-1zM195 203h18v1h-18zM215 203h1v1h-1zM222 203h1v1h-1zM227 203h2v1h-2zM230 203h1v1h-1zM233 203h2v1h-2zM240 203h1v1h-1zM194 204h1v1h-1zM196 204h16v1h-16zM215 204h1v1h-1zM220 204h1v1h-1zM224 204h1v1h-1zM227 204h3v1h-3zM232 204h1v1h-1zM234 204h1v1h-1zM237 204h1v1h-1zM245 204h1v1h-1zM196 205h14v1h-14zM211 205h1v1h-1zM216 205h2v1h-2zM227 205h1v1h-1zM229 205h1v1h-1zM236 205h1v1h-1zM238 205h1v1h-1zM196 206h1v1h-1zM198 206h12v1h-12zM211 206h1v1h-1zM219 206h1v1h-1zM223 206h1v1h-1zM225 206h1v1h-1zM230 206h1v1h-1zM238 206h2v1h-2zM245 206h2v1h-2zM196 207h13v1h-13zM213 207h1v1h-1zM228 207h1v1h-1zM232 207h1v1h-1zM238 207h1v1h-1zM247 207h1v1h-1zM198 208h11v1h-11zM210 208h1v1h-1zM226 208h1v1h-1zM237 208h1v1h-1zM240 208h1v1h-1zM283 208h1v1h-1zM198 209h4v1h-4zM203 209h6v1h-6zM216 209h1v1h-1zM224 209h1v1h-1zM230 209h1v1h-1zM201 210h4v1h-4zM206 210h2v1h-2zM209 210h1v1h-1zM211 210h2v1h-2zM226 210h1v1h-1zM230 210h1v1h-1zM200 211h1v1h-1zM202 211h2v1h-2zM205 211h3v1h-3zM209 211h1v1h-1zM228 211h1v1h-1zM244 211h1v1h-1zM247 211h1v1h-1zM192 212h1v1h-1zM215 212h1v1h-1zM218 212h1v1h-1zM232 212h1v1h-1zM237 212h1v1h-1zM189 213h1v1h-1zM216 213h1v1h-1zM224 213h1v1h-1zM234 213h1v1h-1zM193 214h1v1h-1zM195 214h1v1h-1zM203 214h1v1h-1zM208 214h2v1h-2zM215 214h3v1h-3zM220 214h2v1h-2zM225 214h1v1h-1zM191 215h1v1h-1zM221 215h1v1h-1zM192 216h1v1h-1zM201 216h1v1h-1zM208 216h1v1h-1zM213 216h1v1h-1zM202 217h1v1h-1zM206 217h1v1h-1zM208 217h1v1h-1zM218 217h1v1h-1zM223 217h1v1h-1zM229 217h1v1h-1zM199 218h1v1h-1zM192 219h1v1h-1zM197 219h4v1h-4zM202 219h1v1h-1zM205 219h1v1h-1zM210 219h2v1h-2zM223 219h1v1h-1zM225 219h1v1h-1zM227 219h1v1h-1zM231 219h1v1h-1zM234 219h2v1h-2zM240 219h1v1h-1zM244 219h1v1h-1zM247 219h1v1h-1zM198 220h1v1h-1zM200 220h7v1h-7zM208 220h1v1h-1zM210 220h1v1h-1zM213 220h1v1h-1zM217 220h1v1h-1zM221 220h2v1h-2zM225 220h1v1h-1zM228 220h1v1h-1zM238 220h1v1h-1zM243 220h1v1h-1zM197 221h11v1h-11zM219 221h1v1h-1zM223 221h3v1h-3zM228 221h3v1h-3zM232 221h1v1h-1zM237 221h1v1h-1zM243 221h1v1h-1zM198 222h12v1h-12zM223 222h1v1h-1zM225 222h2v1h-2zM233 222h1v1h-1zM236 222h1v1h-1zM243 222h1v1h-1zM196 223h1v1h-1zM198 223h10v1h-10zM214 223h1v1h-1zM223 223h1v1h-1zM225 223h2v1h-2zM228 223h1v1h-1zM230 223h1v1h-1zM235 223h3v1h-3zM242 223h1v1h-1zM244 223h1v1h-1zM197 224h13v1h-13zM211 224h1v1h-1zM214 224h1v1h-1zM219 224h1v1h-1zM223 224h1v1h-1zM227 224h1v1h-1zM233 224h3v1h-3zM237 224h1v1h-1zM239 224h2v1h-2zM243 224h1v1h-1zM247 224h1v1h-1zM250 224h1v1h-1zM195 225h1v1h-1zM197 225h14v1h-14zM217 225h1v1h-1zM220 225h1v1h-1zM223 225h2v1h-2zM227 225h10v1h-10zM243 225h2v1h-2zM197 226h14v1h-14zM212 226h1v1h-1zM214 226h1v1h-1zM220 226h1v1h-1zM222 226h1v1h-1zM224 226h1v1h-1zM226 226h2v1h-2zM229 226h3v1h-3zM233 226h3v1h-3zM237 226h4v1h-4zM242 226h1v1h-1zM194 227h17v1h-17zM212 227h1v1h-1zM214 227h1v1h-1zM217 227h4v1h-4zM222 227h13v1h-13zM236 227h1v1h-1zM239 227h2v1h-2zM242 227h1v1h-1zM244 227h1v1h-1zM246 227h2v1h-2zM195 228h19v1h-19zM215 228h1v1h-1zM218 228h1v1h-1zM220 228h4v1h-4zM225 228h2v1h-2zM228 228h5v1h-5zM234 228h1v1h-1zM236 228h3v1h-3zM241 228h1v1h-1zM243 228h2v1h-2zM246 228h1v1h-1zM248 228h1v1h-1zM250 228h1v1h-1zM194 229h17v1h-17zM212 229h2v1h-2zM216 229h2v1h-2zM220 229h2v1h-2zM223 229h13v1h-13zM237 229h3v1h-3zM241 229h2v1h-2zM244 229h2v1h-2zM247 229h2v1h-2zM251 229h1v1h-1zM253 229h1v1h-1zM194 230h17v1h-17zM212 230h1v1h-1zM214 230h1v1h-1zM217 230h6v1h-6zM224 230h21v1h-21zM247 230h3v1h-3zM195 231h18v1h-18zM221 231h1v1h-1zM223 231h16v1h-16zM240 231h3v1h-3zM244 231h2v1h-2zM249 231h2v1h-2zM253 231h1v1h-1zM195 232h16v1h-16zM213 232h1v1h-1zM217 232h2v1h-2zM221 232h2v1h-2zM224 232h23v1h-23zM250 232h2v1h-2zM191 233h1v1h-1zM194 233h19v1h-19zM219 233h1v1h-1zM221 233h1v1h-1zM223 233h19v1h-19zM243 233h3v1h-3zM248 233h2v1h-2zM251 233h1v1h-1zM253 233h1v1h-1zM194 234h18v1h-18zM216 234h1v1h-1zM218 234h2v1h-2zM221 234h1v1h-1zM223 234h15v1h-15zM239 234h2v1h-2zM242 234h4v1h-4zM247 234h2v1h-2zM251 234h1v1h-1zM193 235h20v1h-20zM216 235h2v1h-2zM221 235h13v1h-13zM235 235h4v1h-4zM243 235h2v1h-2zM248 235h1v1h-1zM270 235h1v1h-1zM194 236h19v1h-19zM217 236h2v1h-2zM220 236h4v1h-4zM225 236h1v1h-1zM227 236h5v1h-5zM233 236h1v1h-1zM235 236h2v1h-2zM238 236h3v1h-3zM242 236h2v1h-2zM247 236h2v1h-2zM193 237h19v1h-19zM217 237h3v1h-3zM222 237h1v1h-1zM224 237h12v1h-12zM237 237h1v1h-1zM239 237h4v1h-4zM244 237h1v1h-1zM246 237h3v1h-3zM251 237h1v1h-1zM253 237h1v1h-1zM193 238h1v1h-1zM195 238h16v1h-16zM212 238h2v1h-2zM217 238h1v1h-1zM219 238h2v1h-2zM226 238h1v1h-1zM229 238h3v1h-3zM233 238h6v1h-6zM241 238h4v1h-4zM193 239h19v1h-19zM217 239h1v1h-1zM220 239h6v1h-6zM227 239h1v1h-1zM230 239h5v1h-5zM237 239h1v1h-1zM239 239h4v1h-4zM244 239h3v1h-3zM254 239h1v1h-1zM194 240h17v1h-17zM212 240h1v1h-1zM214 240h1v1h-1zM216 240h1v1h-1zM219 240h1v1h-1zM221 240h2v1h-2zM226 240h3v1h-3zM234 240h5v1h-5zM240 240h1v1h-1zM242 240h6v1h-6zM195 241h1v1h-1zM197 241h14v1h-14zM217 241h1v1h-1zM220 241h5v1h-5zM228 241h2v1h-2zM231 241h2v1h-2zM238 241h1v1h-1zM240 241h1v1h-1zM245 241h2v1h-2zM249 241h1v1h-1zM195 242h14v1h-14zM210 242h1v1h-1zM214 242h1v1h-1zM216 242h1v1h-1zM221 242h1v1h-1zM226 242h1v1h-1zM231 242h1v1h-1zM234 242h3v1h-3zM239 242h1v1h-1zM241 242h3v1h-3zM248 242h1v1h-1z" fill="#000"/>
<rect x="185.8" y="155.1" width="105.7" height="89.1" fill="none" stroke="#000" stroke-width="1.1"/>
<path d="M215.8 155.1V244.2 M185.8 212.8H291.5" stroke="#000" stroke-width="1.1"/>
<path d="M185.8 244.2v3.5M193.75 244.2v2M198.41 244.2v2M201.71 244.2v2M204.27 244.2v2M206.36 244.2v2M208.13 244.2v2M209.66 244.2v2M211.02 244.2v2M212.23 244.2v3.5M220.18 244.2v2M224.83 244.2v2M228.13 244.2v2M230.7 244.2v2M232.79 244.2v2M234.56 244.2v2M236.09 244.2v2M237.44 244.2v2M238.65 244.2v3.5M246.6 244.2v2M251.26 244.2v2M254.56 244.2v2M257.12 244.2v2M259.21 244.2v2M260.98 244.2v2M262.51 244.2v2M263.87 244.2v2M265.07 244.2v3.5M273.03 244.2v2M277.68 244.2v2M280.98 244.2v2M283.55 244.2v2M285.64 244.2v2M287.41 244.2v2M288.94 244.2v2M290.29 244.2v2M291.5 244.2v3.5M185.8 244.2h-3.5M185.8 237.49h-2M185.8 233.57h-2M185.8 230.79h-2M185.8 228.63h-2M185.8 226.87h-2M185.8 225.38h-2M185.8 224.08h-2M185.8 222.94h-2M185.8 221.92h-3.5M185.8 215.22h-2M185.8 211.3h-2M185.8 208.51h-2M185.8 206.36h-2M185.8 204.59h-2M185.8 203.1h-2M185.8 201.81h-2M185.8 200.67h-2M185.8 199.65h-3.5M185.8 192.94h-2M185.8 189.02h-2M185.8 186.24h-2M185.8 184.08h-2M185.8 182.32h-2M185.8 180.83h-2M185.8 179.53h-2M185.8 178.39h-2M185.8 177.38h-3.5M185.8 170.67h-2M185.8 166.75h-2M185.8 163.96h-2M185.8 161.81h-2M185.8 160.04h-2M185.8 158.55h-2M185.8 157.26h-2M185.8 156.12h-2M185.8 155.1h-3.5" stroke="#111" stroke-width="0.9" fill="none"/>
<path d="M240 173.8H286.5 M265 159V192.5" stroke="#000" stroke-width="1.1"/>
<text transform="translate(262.9,168.5) scale(1.087,1)" font-size="9.2" font-weight="bold" stroke="#000" stroke-width="0.15" text-anchor="end">49.7</text>
<text transform="translate(268,168.5) scale(1.087,1)" font-size="9.2" font-weight="bold" stroke="#000" stroke-width="0.15">3.1</text>
<text transform="translate(262.9,186) scale(1.087,1)" font-size="9.2" font-weight="bold" stroke="#000" stroke-width="0.15" text-anchor="end">43.0</text>
<text transform="translate(268,186) scale(1.087,1)" font-size="9.2" font-weight="bold" stroke="#000" stroke-width="0.15">3.9</text>
<path d="M207 283h1v1h-1zM209 284h1v1h-1zM210 288h1v1h-1zM191 290h1v1h-1zM203 291h1v1h-1zM215 291h1v1h-1zM191 292h1v1h-1zM217 292h1v1h-1zM201 294h1v1h-1zM207 296h1v1h-1zM212 297h1v1h-1zM194 298h1v1h-1zM201 298h1v1h-1zM204 298h1v1h-1zM239 299h1v1h-1zM211 300h2v1h-2zM217 300h1v1h-1zM224 300h1v1h-1zM215 301h1v1h-1zM224 301h2v1h-2zM229 301h2v1h-2zM211 302h1v1h-1zM217 302h1v1h-1zM220 302h1v1h-1zM228 302h1v1h-1zM232 302h1v1h-1zM199 303h1v1h-1zM201 303h1v1h-1zM203 303h1v1h-1zM205 303h1v1h-1zM207 303h1v1h-1zM215 303h1v1h-1zM218 303h1v1h-1zM220 303h1v1h-1zM223 303h1v1h-1zM226 303h1v1h-1zM231 303h1v1h-1zM236 303h1v1h-1zM200 304h2v1h-2zM206 304h1v1h-1zM211 304h2v1h-2zM216 304h1v1h-1zM219 304h1v1h-1zM225 304h1v1h-1zM227 304h3v1h-3zM233 304h2v1h-2zM243 304h1v1h-1zM199 305h1v1h-1zM201 305h2v1h-2zM205 305h3v1h-3zM218 305h1v1h-1zM220 305h1v1h-1zM222 305h2v1h-2zM228 305h1v1h-1zM230 305h2v1h-2zM233 305h2v1h-2zM237 305h1v1h-1zM199 306h11v1h-11zM214 306h2v1h-2zM220 306h4v1h-4zM225 306h1v1h-1zM227 306h1v1h-1zM229 306h1v1h-1zM233 306h2v1h-2zM236 306h1v1h-1zM198 307h11v1h-11zM210 307h1v1h-1zM214 307h1v1h-1zM217 307h4v1h-4zM222 307h2v1h-2zM225 307h2v1h-2zM228 307h1v1h-1zM230 307h2v1h-2zM234 307h2v1h-2zM237 307h5v1h-5zM245 307h1v1h-1zM196 308h15v1h-15zM212 308h2v1h-2zM218 308h2v1h-2zM221 308h1v1h-1zM223 308h5v1h-5zM229 308h1v1h-1zM231 308h1v1h-1zM234 308h2v1h-2zM237 308h1v1h-1zM242 308h1v1h-1zM245 308h1v1h-1zM195 309h18v1h-18zM214 309h2v1h-2zM218 309h8v1h-8zM227 309h5v1h-5zM233 309h2v1h-2zM236 309h3v1h-3zM240 309h1v1h-1zM195 310h16v1h-16zM214 310h1v1h-1zM219 310h4v1h-4zM224 310h1v1h-1zM227 310h5v1h-5zM234 310h2v1h-2zM237 310h1v1h-1zM240 310h1v1h-1zM242 310h1v1h-1zM244 310h2v1h-2zM247 310h1v1h-1zM256 310h1v1h-1zM195 311h17v1h-17zM213 311h2v1h-2zM216 311h14v1h-14zM231 311h2v1h-2zM234 311h4v1h-4zM239 311h2v1h-2zM245 311h1v1h-1zM248 311h1v1h-1zM250 311h1v1h-1zM194 312h1v1h-1zM196 312h19v1h-19zM216 312h2v1h-2zM219 312h10v1h-10zM230 312h7v1h-7zM238 312h3v1h-3zM243 312h2v1h-2zM195 313h18v1h-18zM214 313h1v1h-1zM216 313h22v1h-22zM240 313h2v1h-2zM245 313h1v1h-1zM193 314h1v1h-1zM195 314h17v1h-17zM213 314h4v1h-4zM218 314h9v1h-9zM228 314h2v1h-2zM231 314h2v1h-2zM234 314h1v1h-1zM236 314h1v1h-1zM239 314h3v1h-3zM255 314h1v1h-1zM194 315h23v1h-23zM220 315h12v1h-12zM233 315h10v1h-10zM193 316h26v1h-26zM221 316h9v1h-9zM233 316h1v1h-1zM235 316h1v1h-1zM238 316h1v1h-1zM246 316h1v1h-1zM193 317h1v1h-1zM195 317h19v1h-19zM215 317h2v1h-2zM219 317h5v1h-5zM227 317h3v1h-3zM232 317h1v1h-1zM235 317h3v1h-3zM241 317h1v1h-1zM243 317h1v1h-1zM245 317h1v1h-1zM194 318h18v1h-18zM214 318h1v1h-1zM220 318h10v1h-10zM237 318h1v1h-1zM255 318h1v1h-1zM194 319h19v1h-19zM218 319h1v1h-1zM221 319h1v1h-1zM223 319h2v1h-2zM226 319h2v1h-2zM231 319h2v1h-2zM235 319h1v1h-1zM196 320h18v1h-18zM220 320h1v1h-1zM222 320h2v1h-2zM225 320h3v1h-3zM231 320h2v1h-2zM234 320h2v1h-2zM238 320h2v1h-2zM252 320h1v1h-1zM193 321h1v1h-1zM195 321h19v1h-19zM216 321h1v1h-1zM218 321h1v1h-1zM220 321h3v1h-3zM226 321h1v1h-1zM228 321h2v1h-2zM235 321h1v1h-1zM240 321h1v1h-1zM243 321h1v1h-1zM195 322h18v1h-18zM215 322h1v1h-1zM223 322h1v1h-1zM225 322h1v1h-1zM230 322h1v1h-1zM234 322h2v1h-2zM254 322h1v1h-1zM194 323h20v1h-20zM215 323h1v1h-1zM228 323h1v1h-1zM230 323h1v1h-1zM233 323h2v1h-2zM237 323h1v1h-1zM242 323h1v1h-1zM244 323h1v1h-1zM195 324h17v1h-17zM230 324h1v1h-1zM196 325h14v1h-14zM211 325h1v1h-1zM218 325h2v1h-2zM228 325h2v1h-2zM232 325h1v1h-1zM195 326h1v1h-1zM197 326h15v1h-15zM222 326h1v1h-1zM224 326h1v1h-1zM234 326h1v1h-1zM247 326h1v1h-1zM196 327h1v1h-1zM198 327h11v1h-11zM210 327h1v1h-1zM214 327h1v1h-1zM219 327h1v1h-1zM221 327h1v1h-1zM227 327h1v1h-1zM242 327h2v1h-2zM196 328h2v1h-2zM199 328h10v1h-10zM224 328h1v1h-1zM226 328h2v1h-2zM237 328h1v1h-1zM284 328h1v1h-1zM200 329h5v1h-5zM206 329h2v1h-2zM211 329h1v1h-1zM220 329h1v1h-1zM188 330h1v1h-1zM200 330h2v1h-2zM205 330h1v1h-1zM214 330h1v1h-1zM216 330h1v1h-1zM227 330h1v1h-1zM189 331h1v1h-1zM200 331h1v1h-1zM203 331h1v1h-1zM209 331h1v1h-1zM216 331h2v1h-2zM224 331h1v1h-1zM246 331h1v1h-1zM198 332h2v1h-2zM202 332h1v1h-1zM205 332h1v1h-1zM209 332h3v1h-3zM219 332h1v1h-1zM223 333h1v1h-1zM232 333h1v1h-1zM240 333h1v1h-1zM200 334h1v1h-1zM208 334h1v1h-1zM210 334h3v1h-3zM198 335h1v1h-1zM216 335h1v1h-1zM238 335h1v1h-1zM241 335h1v1h-1zM192 336h2v1h-2zM199 336h1v1h-1zM206 336h1v1h-1zM213 336h1v1h-1zM216 336h1v1h-1zM220 336h1v1h-1zM223 336h1v1h-1zM225 336h1v1h-1zM227 336h1v1h-1zM231 336h1v1h-1zM201 337h1v1h-1zM209 337h1v1h-1zM226 337h1v1h-1zM228 337h1v1h-1zM209 338h1v1h-1zM216 338h1v1h-1zM221 338h1v1h-1zM230 338h1v1h-1zM232 338h1v1h-1zM277 338h1v1h-1zM201 339h4v1h-4zM217 339h1v1h-1zM222 339h2v1h-2zM230 339h1v1h-1zM240 339h1v1h-1zM244 339h1v1h-1zM194 340h1v1h-1zM197 340h1v1h-1zM201 340h2v1h-2zM204 340h2v1h-2zM208 340h1v1h-1zM212 340h3v1h-3zM219 340h1v1h-1zM225 340h3v1h-3zM229 340h1v1h-1zM234 340h1v1h-1zM242 340h1v1h-1zM246 340h1v1h-1zM194 341h1v1h-1zM199 341h6v1h-6zM206 341h1v1h-1zM208 341h1v1h-1zM211 341h3v1h-3zM218 341h1v1h-1zM221 341h3v1h-3zM237 341h2v1h-2zM241 341h1v1h-1zM198 342h10v1h-10zM209 342h2v1h-2zM212 342h5v1h-5zM219 342h1v1h-1zM226 342h1v1h-1zM228 342h1v1h-1zM236 342h1v1h-1zM238 342h3v1h-3zM244 342h1v1h-1zM251 342h1v1h-1zM198 343h10v1h-10zM209 343h1v1h-1zM213 343h2v1h-2zM221 343h1v1h-1zM224 343h2v1h-2zM229 343h1v1h-1zM232 343h1v1h-1zM234 343h1v1h-1zM236 343h1v1h-1zM238 343h1v1h-1zM282 343h1v1h-1zM197 344h13v1h-13zM211 344h2v1h-2zM214 344h2v1h-2zM217 344h1v1h-1zM221 344h4v1h-4zM228 344h2v1h-2zM232 344h1v1h-1zM236 344h3v1h-3zM246 344h1v1h-1zM248 344h1v1h-1zM250 344h1v1h-1zM197 345h13v1h-13zM211 345h1v1h-1zM216 345h1v1h-1zM219 345h1v1h-1zM221 345h2v1h-2zM230 345h3v1h-3zM234 345h2v1h-2zM238 345h4v1h-4zM243 345h1v1h-1zM197 346h16v1h-16zM216 346h1v1h-1zM219 346h4v1h-4zM224 346h2v1h-2zM227 346h2v1h-2zM231 346h3v1h-3zM235 346h2v1h-2zM238 346h1v1h-1zM240 346h1v1h-1zM243 346h1v1h-1zM197 347h14v1h-14zM212 347h1v1h-1zM214 347h1v1h-1zM218 347h9v1h-9zM229 347h5v1h-5zM235 347h2v1h-2zM239 347h2v1h-2zM244 347h1v1h-1zM196 348h16v1h-16zM213 348h4v1h-4zM219 348h1v1h-1zM221 348h2v1h-2zM224 348h7v1h-7zM233 348h4v1h-4zM238 348h4v1h-4zM196 349h16v1h-16zM213 349h3v1h-3zM217 349h1v1h-1zM219 349h1v1h-1zM221 349h10v1h-10zM233 349h1v1h-1zM236 349h2v1h-2zM239 349h2v1h-2zM247 349h2v1h-2zM250 349h1v1h-1zM194 350h18v1h-18zM213 350h1v1h-1zM215 350h1v1h-1zM217 350h2v1h-2zM220 350h13v1h-13zM234 350h1v1h-1zM236 350h3v1h-3zM240 350h3v1h-3zM244 350h1v1h-1zM252 350h1v1h-1zM194 351h21v1h-21zM218 351h11v1h-11zM231 351h3v1h-3zM236 351h1v1h-1zM238 351h4v1h-4zM243 351h3v1h-3zM248 351h2v1h-2zM195 352h19v1h-19zM215 352h2v1h-2zM218 352h16v1h-16zM236 352h4v1h-4zM241 352h5v1h-5zM249 352h1v1h-1zM194 353h18v1h-18zM213 353h1v1h-1zM216 353h15v1h-15zM232 353h3v1h-3zM237 353h6v1h-6zM244 353h1v1h-1zM247 353h1v1h-1zM249 353h1v1h-1zM195 354h35v1h-35zM231 354h1v1h-1zM233 354h6v1h-6zM241 354h1v1h-1zM243 354h1v1h-1zM247 354h1v1h-1zM194 355h40v1h-40zM237 355h2v1h-2zM240 355h2v1h-2zM243 355h1v1h-1zM247 355h1v1h-1zM249 355h1v1h-1zM196 356h28v1h-28zM225 356h2v1h-2zM229 356h6v1h-6zM236 356h1v1h-1zM239 356h3v1h-3zM245 356h1v1h-1zM196 357h16v1h-16zM213 357h2v1h-2zM217 357h3v1h-3zM221 357h2v1h-2zM225 357h2v1h-2zM228 357h5v1h-5zM234 357h2v1h-2zM237 357h1v1h-1zM242 357h3v1h-3zM249 357h1v1h-1zM254 357h1v1h-1zM196 358h15v1h-15zM212 358h3v1h-3zM216 358h5v1h-5zM222 358h7v1h-7zM230 358h1v1h-1zM232 358h1v1h-1zM235 358h4v1h-4zM242 358h1v1h-1zM244 358h1v1h-1zM196 359h14v1h-14zM211 359h4v1h-4zM216 359h5v1h-5zM222 359h1v1h-1zM225 359h1v1h-1zM227 359h1v1h-1zM229 359h3v1h-3zM236 359h2v1h-2zM240 359h1v1h-1zM243 359h1v1h-1zM250 359h1v1h-1zM195 360h1v1h-1zM197 360h13v1h-13zM211 360h3v1h-3zM215 360h2v1h-2zM220 360h2v1h-2zM223 360h4v1h-4zM228 360h1v1h-1zM230 360h2v1h-2zM234 360h1v1h-1zM238 360h1v1h-1zM240 360h2v1h-2zM197 361h14v1h-14zM212 361h1v1h-1zM214 361h2v1h-2zM217 361h1v1h-1zM219 361h3v1h-3zM225 361h2v1h-2zM228 361h1v1h-1zM230 361h4v1h-4zM236 361h1v1h-1zM238 361h1v1h-1zM198 362h12v1h-12zM211 362h1v1h-1zM213 362h2v1h-2zM220 362h1v1h-1zM222 362h4v1h-4zM227 362h1v1h-1zM230 362h1v1h-1zM196 363h15v1h-15zM212 363h2v1h-2zM218 363h1v1h-1zM227 363h4v1h-4zM236 363h2v1h-2zM250 363h1v1h-1z" fill="#000"/>
<rect x="185.8" y="275.1" width="104.5" height="90.1" fill="none" stroke="#000" stroke-width="1.1"/>
<path d="M216.2 275.1V365.2 M185.8 332.8H290.3" stroke="#000" stroke-width="1.1"/>
<path d="M185.8 365.2v3.5M193.66 365.2v2M198.26 365.2v2M201.53 365.2v2M204.06 365.2v2M206.13 365.2v2M207.88 365.2v2M209.39 365.2v2M210.73 365.2v2M211.93 365.2v3.5M219.79 365.2v2M224.39 365.2v2M227.65 365.2v2M230.19 365.2v2M232.25 365.2v2M234 365.2v2M235.52 365.2v2M236.85 365.2v2M238.05 365.2v3.5M245.91 365.2v2M250.51 365.2v2M253.78 365.2v2M256.31 365.2v2M258.38 365.2v2M260.13 365.2v2M261.64 365.2v2M262.98 365.2v2M264.18 365.2v3.5M272.04 365.2v2M276.64 365.2v2M279.9 365.2v2M282.44 365.2v2M284.5 365.2v2M286.25 365.2v2M287.77 365.2v2M289.1 365.2v2M290.3 365.2v3.5M185.8 365.2h-3.5M185.8 358.42h-2M185.8 354.45h-2M185.8 351.64h-2M185.8 349.46h-2M185.8 347.67h-2M185.8 346.16h-2M185.8 344.86h-2M185.8 343.71h-2M185.8 342.68h-3.5M185.8 335.89h-2M185.8 331.93h-2M185.8 329.11h-2M185.8 326.93h-2M185.8 325.15h-2M185.8 323.64h-2M185.8 322.33h-2M185.8 321.18h-2M185.8 320.15h-3.5M185.8 313.37h-2M185.8 309.4h-2M185.8 306.59h-2M185.8 304.41h-2M185.8 302.62h-2M185.8 301.11h-2M185.8 299.81h-2M185.8 298.66h-2M185.8 297.62h-3.5M185.8 290.84h-2M185.8 286.88h-2M185.8 284.06h-2M185.8 281.88h-2M185.8 280.1h-2M185.8 278.59h-2M185.8 277.28h-2M185.8 276.13h-2M185.8 275.1h-3.5" stroke="#111" stroke-width="0.9" fill="none"/>
<path d="M241 292.5H288 M263.5 279.5V309" stroke="#000" stroke-width="1.1"/>
<text transform="translate(262.7,290.5) scale(1.087,1)" font-size="9.2" font-weight="bold" stroke="#000" stroke-width="0.15" text-anchor="end">49.3</text>
<text transform="translate(266.3,290.5) scale(1.087,1)" font-size="9.2" font-weight="bold" stroke="#000" stroke-width="0.15">3.1</text>
<text transform="translate(262.7,306.5) scale(1.087,1)" font-size="9.2" font-weight="bold" stroke="#000" stroke-width="0.15" text-anchor="end">44.9</text>
<text transform="translate(266.3,306.5) scale(1.087,1)" font-size="9.2" font-weight="bold" stroke="#000" stroke-width="0.15">3.7</text>
<path d="M215 409h1v1h-1zM225 409h1v1h-1zM200 411h1v1h-1zM204 411h1v1h-1zM223 412h1v1h-1zM198 413h1v1h-1zM207 413h1v1h-1zM212 413h1v1h-1zM217 413h1v1h-1zM203 414h1v1h-1zM201 415h1v1h-1zM199 417h1v1h-1zM204 417h1v1h-1zM214 417h1v1h-1zM228 419h1v1h-1zM205 420h2v1h-2zM208 420h1v1h-1zM212 420h1v1h-1zM221 420h1v1h-1zM199 421h1v1h-1zM201 421h7v1h-7zM210 421h1v1h-1zM213 421h1v1h-1zM221 421h1v1h-1zM226 421h1v1h-1zM228 421h1v1h-1zM232 421h1v1h-1zM199 422h1v1h-1zM201 422h7v1h-7zM209 422h1v1h-1zM211 422h1v1h-1zM214 422h2v1h-2zM224 422h9v1h-9zM236 422h1v1h-1zM196 423h1v1h-1zM198 423h15v1h-15zM214 423h3v1h-3zM220 423h4v1h-4zM226 423h10v1h-10zM237 423h1v1h-1zM198 424h16v1h-16zM216 424h1v1h-1zM219 424h15v1h-15zM235 424h3v1h-3zM239 424h1v1h-1zM241 424h1v1h-1zM195 425h41v1h-41zM237 425h1v1h-1zM240 425h3v1h-3zM248 425h1v1h-1zM196 426h19v1h-19zM217 426h21v1h-21zM239 426h2v1h-2zM195 427h22v1h-22zM220 427h20v1h-20zM244 427h2v1h-2zM247 427h1v1h-1zM251 427h1v1h-1zM195 428h21v1h-21zM217 428h27v1h-27zM245 428h2v1h-2zM250 428h2v1h-2zM193 429h47v1h-47zM242 429h2v1h-2zM246 429h3v1h-3zM250 429h1v1h-1zM195 430h44v1h-44zM241 430h1v1h-1zM243 430h3v1h-3zM247 430h1v1h-1zM251 430h1v1h-1zM193 431h45v1h-45zM239 431h2v1h-2zM243 431h1v1h-1zM247 431h1v1h-1zM193 432h48v1h-48zM242 432h1v1h-1zM250 432h1v1h-1zM253 432h1v1h-1zM194 433h46v1h-46zM241 433h1v1h-1zM243 433h1v1h-1zM246 433h1v1h-1zM194 434h44v1h-44zM241 434h1v1h-1zM244 434h1v1h-1zM246 434h1v1h-1zM194 435h20v1h-20zM216 435h1v1h-1zM218 435h17v1h-17zM236 435h4v1h-4zM241 435h1v1h-1zM245 435h1v1h-1zM248 435h1v1h-1zM194 436h24v1h-24zM219 436h3v1h-3zM223 436h15v1h-15zM239 436h1v1h-1zM241 436h1v1h-1zM246 436h3v1h-3zM192 437h23v1h-23zM216 437h2v1h-2zM220 437h14v1h-14zM237 437h1v1h-1zM193 438h21v1h-21zM216 438h1v1h-1zM219 438h3v1h-3zM223 438h3v1h-3zM227 438h4v1h-4zM232 438h2v1h-2zM235 438h1v1h-1zM238 438h1v1h-1zM241 438h2v1h-2zM252 438h1v1h-1zM195 439h21v1h-21zM217 439h1v1h-1zM219 439h1v1h-1zM221 439h1v1h-1zM223 439h1v1h-1zM225 439h1v1h-1zM229 439h3v1h-3zM233 439h3v1h-3zM239 439h1v1h-1zM196 440h18v1h-18zM217 440h2v1h-2zM220 440h1v1h-1zM223 440h1v1h-1zM229 440h3v1h-3zM197 441h16v1h-16zM215 441h1v1h-1zM218 441h3v1h-3zM225 441h1v1h-1zM227 441h1v1h-1zM232 441h1v1h-1zM234 441h1v1h-1zM240 441h1v1h-1zM243 441h1v1h-1zM270 441h1v1h-1zM197 442h14v1h-14zM213 442h1v1h-1zM216 442h1v1h-1zM218 442h1v1h-1zM222 442h1v1h-1zM232 442h2v1h-2zM240 442h1v1h-1zM243 442h1v1h-1zM245 442h1v1h-1zM199 443h13v1h-13zM215 443h1v1h-1zM219 443h1v1h-1zM223 443h1v1h-1zM225 443h1v1h-1zM229 443h1v1h-1zM235 443h2v1h-2zM199 444h3v1h-3zM203 444h5v1h-5zM209 444h1v1h-1zM211 444h2v1h-2zM215 444h1v1h-1zM227 444h1v1h-1zM229 444h1v1h-1zM232 444h4v1h-4zM238 444h1v1h-1zM241 444h1v1h-1zM198 445h3v1h-3zM202 445h4v1h-4zM211 445h1v1h-1zM213 445h1v1h-1zM222 445h1v1h-1zM225 445h1v1h-1zM227 445h1v1h-1zM229 445h2v1h-2zM233 445h2v1h-2zM240 445h3v1h-3zM201 446h1v1h-1zM204 446h2v1h-2zM213 446h1v1h-1zM216 446h1v1h-1zM219 446h2v1h-2zM222 446h1v1h-1zM224 446h1v1h-1zM228 446h2v1h-2zM236 446h1v1h-1zM241 446h1v1h-1zM249 446h1v1h-1zM213 447h1v1h-1zM216 447h4v1h-4zM227 447h1v1h-1zM229 447h2v1h-2zM234 447h2v1h-2zM237 447h1v1h-1zM239 447h1v1h-1zM241 447h1v1h-1zM244 447h1v1h-1zM247 447h1v1h-1zM211 448h1v1h-1zM215 448h1v1h-1zM217 448h1v1h-1zM220 448h1v1h-1zM226 448h2v1h-2zM229 448h1v1h-1zM233 448h5v1h-5zM239 448h1v1h-1zM242 448h1v1h-1zM244 448h1v1h-1zM213 449h1v1h-1zM216 449h1v1h-1zM218 449h2v1h-2zM231 449h1v1h-1zM236 449h1v1h-1zM245 449h1v1h-1zM248 449h1v1h-1zM251 449h1v1h-1zM214 450h2v1h-2zM219 450h1v1h-1zM226 450h1v1h-1zM231 450h1v1h-1zM236 450h2v1h-2zM239 450h2v1h-2zM214 451h1v1h-1zM225 451h1v1h-1zM228 451h1v1h-1zM230 451h1v1h-1zM232 451h1v1h-1zM241 451h2v1h-2zM213 452h2v1h-2zM219 452h2v1h-2zM224 452h2v1h-2zM233 452h1v1h-1zM253 452h1v1h-1zM203 453h1v1h-1zM209 453h1v1h-1zM211 453h1v1h-1zM214 453h2v1h-2zM217 453h1v1h-1zM226 453h2v1h-2zM231 453h1v1h-1zM233 453h2v1h-2zM236 453h1v1h-1zM238 453h1v1h-1zM201 454h1v1h-1zM203 454h2v1h-2zM211 454h1v1h-1zM216 454h1v1h-1zM223 454h1v1h-1zM230 454h1v1h-1zM232 454h2v1h-2zM241 454h1v1h-1zM202 455h1v1h-1zM204 455h2v1h-2zM208 455h3v1h-3zM212 455h1v1h-1zM216 455h1v1h-1zM218 455h1v1h-1zM220 455h1v1h-1zM222 455h4v1h-4zM228 455h1v1h-1zM233 455h1v1h-1zM236 455h1v1h-1zM200 456h7v1h-7zM209 456h2v1h-2zM213 456h2v1h-2zM216 456h1v1h-1zM219 456h2v1h-2zM226 456h1v1h-1zM228 456h1v1h-1zM233 456h1v1h-1zM236 456h1v1h-1zM240 456h1v1h-1zM246 456h2v1h-2zM249 456h1v1h-1zM198 457h11v1h-11zM210 457h1v1h-1zM213 457h2v1h-2zM216 457h1v1h-1zM219 457h1v1h-1zM221 457h3v1h-3zM232 457h3v1h-3zM240 457h1v1h-1zM242 457h1v1h-1zM245 457h1v1h-1zM194 458h1v1h-1zM197 458h15v1h-15zM216 458h1v1h-1zM218 458h1v1h-1zM220 458h1v1h-1zM222 458h1v1h-1zM224 458h2v1h-2zM229 458h1v1h-1zM233 458h1v1h-1zM235 458h1v1h-1zM237 458h1v1h-1zM239 458h1v1h-1zM245 458h2v1h-2zM254 458h1v1h-1zM196 459h1v1h-1zM198 459h15v1h-15zM215 459h1v1h-1zM217 459h3v1h-3zM225 459h1v1h-1zM229 459h1v1h-1zM231 459h2v1h-2zM234 459h1v1h-1zM236 459h2v1h-2zM240 459h2v1h-2zM243 459h1v1h-1zM245 459h1v1h-1zM250 459h2v1h-2zM270 459h1v1h-1zM197 460h17v1h-17zM215 460h1v1h-1zM219 460h1v1h-1zM221 460h1v1h-1zM223 460h4v1h-4zM230 460h2v1h-2zM233 460h1v1h-1zM237 460h1v1h-1zM243 460h1v1h-1zM249 460h1v1h-1zM197 461h21v1h-21zM220 461h2v1h-2zM224 461h4v1h-4zM230 461h2v1h-2zM234 461h3v1h-3zM239 461h1v1h-1zM241 461h2v1h-2zM244 461h1v1h-1zM246 461h1v1h-1zM194 462h21v1h-21zM216 462h3v1h-3zM220 462h2v1h-2zM224 462h7v1h-7zM233 462h1v1h-1zM236 462h3v1h-3zM240 462h2v1h-2zM243 462h2v1h-2zM247 462h1v1h-1zM194 463h22v1h-22zM219 463h1v1h-1zM221 463h1v1h-1zM223 463h7v1h-7zM232 463h1v1h-1zM234 463h3v1h-3zM238 463h1v1h-1zM240 463h2v1h-2zM243 463h1v1h-1zM245 463h1v1h-1zM247 463h1v1h-1zM250 463h1v1h-1zM196 464h20v1h-20zM217 464h1v1h-1zM219 464h2v1h-2zM222 464h1v1h-1zM224 464h5v1h-5zM233 464h1v1h-1zM236 464h2v1h-2zM239 464h4v1h-4zM248 464h1v1h-1zM192 465h1v1h-1zM194 465h20v1h-20zM215 465h5v1h-5zM221 465h1v1h-1zM223 465h8v1h-8zM233 465h1v1h-1zM236 465h2v1h-2zM240 465h2v1h-2zM246 465h3v1h-3zM194 466h21v1h-21zM217 466h4v1h-4zM222 466h2v1h-2zM225 466h13v1h-13zM239 466h2v1h-2zM242 466h2v1h-2zM248 466h1v1h-1zM251 466h1v1h-1zM195 467h20v1h-20zM216 467h3v1h-3zM220 467h8v1h-8zM229 467h5v1h-5zM236 467h3v1h-3zM241 467h1v1h-1zM251 467h1v1h-1zM194 468h23v1h-23zM218 468h1v1h-1zM220 468h1v1h-1zM222 468h9v1h-9zM233 468h2v1h-2zM237 468h1v1h-1zM239 468h1v1h-1zM241 468h2v1h-2zM244 468h2v1h-2zM247 468h1v1h-1zM251 468h2v1h-2zM195 469h27v1h-27zM223 469h3v1h-3zM227 469h4v1h-4zM232 469h4v1h-4zM237 469h1v1h-1zM239 469h3v1h-3zM243 469h3v1h-3zM247 469h1v1h-1zM252 469h1v1h-1zM196 470h26v1h-26zM224 470h13v1h-13zM239 470h3v1h-3zM243 470h2v1h-2zM195 471h23v1h-23zM219 471h5v1h-5zM227 471h2v1h-2zM230 471h1v1h-1zM233 471h2v1h-2zM236 471h1v1h-1zM238 471h3v1h-3zM243 471h4v1h-4zM249 471h1v1h-1zM253 471h1v1h-1zM194 472h19v1h-19zM214 472h4v1h-4zM219 472h1v1h-1zM221 472h4v1h-4zM226 472h7v1h-7zM234 472h3v1h-3zM239 472h3v1h-3zM243 472h3v1h-3zM247 472h1v1h-1zM250 472h2v1h-2zM194 473h25v1h-25zM220 473h9v1h-9zM230 473h1v1h-1zM232 473h3v1h-3zM236 473h1v1h-1zM238 473h1v1h-1zM240 473h1v1h-1zM242 473h6v1h-6zM196 474h24v1h-24zM221 474h3v1h-3zM226 474h7v1h-7zM239 474h3v1h-3zM244 474h3v1h-3zM252 474h1v1h-1zM195 475h22v1h-22zM218 475h1v1h-1zM220 475h2v1h-2zM223 475h2v1h-2zM227 475h3v1h-3zM231 475h3v1h-3zM235 475h4v1h-4zM241 475h1v1h-1zM243 475h1v1h-1zM246 475h1v1h-1zM197 476h18v1h-18zM216 476h2v1h-2zM219 476h5v1h-5zM225 476h6v1h-6zM235 476h4v1h-4zM240 476h1v1h-1zM242 476h2v1h-2zM245 476h4v1h-4zM195 477h1v1h-1zM198 477h13v1h-13zM212 477h6v1h-6zM221 477h6v1h-6zM228 477h1v1h-1zM230 477h3v1h-3zM235 477h2v1h-2zM238 477h1v1h-1zM240 477h4v1h-4zM248 477h1v1h-1zM250 477h1v1h-1zM253 477h1v1h-1zM196 478h1v1h-1zM198 478h24v1h-24zM225 478h3v1h-3zM229 478h6v1h-6zM236 478h1v1h-1zM239 478h1v1h-1zM241 478h1v1h-1zM196 479h1v1h-1zM198 479h11v1h-11zM211 479h3v1h-3zM219 479h1v1h-1zM224 479h1v1h-1zM226 479h4v1h-4zM232 479h1v1h-1zM234 479h1v1h-1zM237 479h2v1h-2zM240 479h1v1h-1zM249 479h2v1h-2z" fill="#000"/>
<rect x="185.8" y="398.6" width="105" height="82.6" fill="none" stroke="#000" stroke-width="1.1"/>
<path d="M215.8 398.6V481.2 M185.8 456.9H290.8" stroke="#000" stroke-width="1.1"/>
<path d="M185.8 481.2v3.5M193.7 481.2v2M198.32 481.2v2M201.6 481.2v2M204.15 481.2v2M206.23 481.2v2M207.98 481.2v2M209.51 481.2v2M210.85 481.2v2M212.05 481.2v3.5M219.95 481.2v2M224.57 481.2v2M227.85 481.2v2M230.4 481.2v2M232.48 481.2v2M234.23 481.2v2M235.76 481.2v2M237.1 481.2v2M238.3 481.2v3.5M246.2 481.2v2M250.82 481.2v2M254.1 481.2v2M256.65 481.2v2M258.73 481.2v2M260.48 481.2v2M262.01 481.2v2M263.35 481.2v2M264.55 481.2v3.5M272.45 481.2v2M277.07 481.2v2M280.35 481.2v2M282.9 481.2v2M284.98 481.2v2M286.73 481.2v2M288.26 481.2v2M289.6 481.2v2M290.8 481.2v3.5M185.8 481.2h-3.5M185.8 474.98h-2M185.8 471.35h-2M185.8 468.77h-2M185.8 466.77h-2M185.8 465.13h-2M185.8 463.75h-2M185.8 462.55h-2M185.8 461.49h-2M185.8 460.55h-3.5M185.8 454.33h-2M185.8 450.7h-2M185.8 448.12h-2M185.8 446.12h-2M185.8 444.48h-2M185.8 443.1h-2M185.8 441.9h-2M185.8 440.84h-2M185.8 439.9h-3.5M185.8 433.68h-2M185.8 430.05h-2M185.8 427.47h-2M185.8 425.47h-2M185.8 423.83h-2M185.8 422.45h-2M185.8 421.25h-2M185.8 420.19h-2M185.8 419.25h-3.5M185.8 413.03h-2M185.8 409.4h-2M185.8 406.82h-2M185.8 404.82h-2M185.8 403.18h-2M185.8 401.8h-2M185.8 400.6h-2M185.8 399.54h-2M185.8 398.6h-3.5" stroke="#111" stroke-width="0.9" fill="none"/>
<path d="M248 411.5H288 M269.5 401V422" stroke="#000" stroke-width="1.1"/>
<text transform="translate(266.4,408.3) scale(1.087,1)" font-size="9.2" font-weight="bold" stroke="#000" stroke-width="0.15" text-anchor="end">48.4</text>
<text transform="translate(272.3,408.3) scale(1.087,1)" font-size="9.2" font-weight="bold" stroke="#000" stroke-width="0.15">6.0</text>
<text transform="translate(266.4,423) scale(1.087,1)" font-size="9.2" font-weight="bold" stroke="#000" stroke-width="0.15" text-anchor="end">38.3</text>
<text transform="translate(272.3,423) scale(1.087,1)" font-size="9.2" font-weight="bold" stroke="#000" stroke-width="0.15">7.3</text>
<path d="M215.8 481.2V488" stroke="#000" stroke-width="1.1"/>
<path d="M440 39h1v1h-1zM364 43h1v1h-1zM350 53h1v1h-1zM383 56h1v1h-1zM359 57h1v1h-1zM354 59h1v1h-1zM359 62h1v1h-1zM356 67h1v1h-1zM360 67h1v1h-1zM350 68h1v1h-1zM352 68h7v1h-7zM360 68h1v1h-1zM362 68h1v1h-1zM349 69h11v1h-11zM348 70h1v1h-1zM350 70h11v1h-11zM384 70h1v1h-1zM392 70h1v1h-1zM400 70h1v1h-1zM350 71h12v1h-12zM363 71h1v1h-1zM347 72h17v1h-17zM371 72h1v1h-1zM374 72h1v1h-1zM377 72h1v1h-1zM379 72h1v1h-1zM383 72h1v1h-1zM347 73h17v1h-17zM372 73h1v1h-1zM376 73h1v1h-1zM398 73h1v1h-1zM346 74h17v1h-17zM365 74h1v1h-1zM367 74h1v1h-1zM376 74h1v1h-1zM397 74h1v1h-1zM345 75h2v1h-2zM348 75h16v1h-16zM367 75h1v1h-1zM371 75h1v1h-1zM380 75h1v1h-1zM384 75h1v1h-1zM392 75h1v1h-1zM347 76h17v1h-17zM369 76h3v1h-3zM376 76h1v1h-1zM378 76h1v1h-1zM381 76h1v1h-1zM384 76h1v1h-1zM390 76h3v1h-3zM395 76h1v1h-1zM347 77h17v1h-17zM365 77h1v1h-1zM379 77h1v1h-1zM381 77h1v1h-1zM384 77h2v1h-2zM389 77h1v1h-1zM344 78h1v1h-1zM346 78h19v1h-19zM366 78h1v1h-1zM373 78h2v1h-2zM377 78h2v1h-2zM382 78h1v1h-1zM384 78h2v1h-2zM388 78h1v1h-1zM395 78h1v1h-1zM346 79h20v1h-20zM373 79h1v1h-1zM375 79h3v1h-3zM380 79h1v1h-1zM383 79h1v1h-1zM386 79h1v1h-1zM346 80h20v1h-20zM370 80h2v1h-2zM379 80h2v1h-2zM385 80h3v1h-3zM346 81h19v1h-19zM372 81h3v1h-3zM376 81h1v1h-1zM378 81h1v1h-1zM380 81h1v1h-1zM382 81h3v1h-3zM391 81h1v1h-1zM393 81h1v1h-1zM345 82h1v1h-1zM347 82h17v1h-17zM371 82h1v1h-1zM373 82h3v1h-3zM386 82h1v1h-1zM348 83h17v1h-17zM375 83h2v1h-2zM378 83h1v1h-1zM380 83h1v1h-1zM386 83h1v1h-1zM347 84h18v1h-18zM369 84h1v1h-1zM374 84h1v1h-1zM377 84h1v1h-1zM382 84h2v1h-2zM385 84h1v1h-1zM387 84h3v1h-3zM395 84h1v1h-1zM348 85h16v1h-16zM368 85h1v1h-1zM374 85h1v1h-1zM376 85h1v1h-1zM348 86h15v1h-15zM381 86h1v1h-1zM383 86h1v1h-1zM427 86h1v1h-1zM348 87h1v1h-1zM350 87h11v1h-11zM362 87h2v1h-2zM371 87h1v1h-1zM375 87h2v1h-2zM348 88h14v1h-14zM378 88h1v1h-1zM384 88h1v1h-1zM349 89h1v1h-1zM351 89h11v1h-11zM352 90h8v1h-8zM384 90h1v1h-1zM349 91h1v1h-1zM353 91h1v1h-1zM355 91h1v1h-1zM357 91h1v1h-1zM382 91h1v1h-1zM349 92h1v1h-1zM358 92h1v1h-1zM340 93h1v1h-1zM344 93h1v1h-1zM384 93h1v1h-1zM379 95h1v1h-1zM355 96h1v1h-1zM392 97h1v1h-1zM353 100h1v1h-1zM356 100h2v1h-2zM353 101h3v1h-3zM357 101h3v1h-3zM365 101h1v1h-1zM371 101h1v1h-1zM350 102h3v1h-3zM354 102h5v1h-5zM390 102h1v1h-1zM408 102h1v1h-1zM350 103h11v1h-11zM362 103h1v1h-1zM365 103h1v1h-1zM372 103h1v1h-1zM379 103h1v1h-1zM382 103h1v1h-1zM404 103h1v1h-1zM346 104h2v1h-2zM350 104h11v1h-11zM369 104h1v1h-1zM371 104h1v1h-1zM373 104h1v1h-1zM381 104h1v1h-1zM393 104h1v1h-1zM407 104h1v1h-1zM349 105h13v1h-13zM374 105h1v1h-1zM376 105h1v1h-1zM385 105h1v1h-1zM393 105h1v1h-1zM402 105h1v1h-1zM343 106h1v1h-1zM345 106h1v1h-1zM347 106h17v1h-17zM366 106h2v1h-2zM371 106h1v1h-1zM375 106h2v1h-2zM380 106h1v1h-1zM382 106h3v1h-3zM347 107h16v1h-16zM364 107h1v1h-1zM371 107h1v1h-1zM373 107h2v1h-2zM385 107h1v1h-1zM388 107h1v1h-1zM396 107h1v1h-1zM348 108h15v1h-15zM375 108h1v1h-1zM379 108h1v1h-1zM385 108h2v1h-2zM388 108h1v1h-1zM391 108h1v1h-1zM394 108h1v1h-1zM346 109h18v1h-18zM372 109h2v1h-2zM375 109h1v1h-1zM378 109h1v1h-1zM383 109h2v1h-2zM392 109h1v1h-1zM347 110h16v1h-16zM372 110h1v1h-1zM377 110h1v1h-1zM380 110h2v1h-2zM383 110h1v1h-1zM385 110h1v1h-1zM388 110h2v1h-2zM397 110h1v1h-1zM401 110h1v1h-1zM347 111h17v1h-17zM380 111h1v1h-1zM382 111h1v1h-1zM384 111h3v1h-3zM392 111h1v1h-1zM397 111h1v1h-1zM344 112h20v1h-20zM370 112h1v1h-1zM377 112h1v1h-1zM383 112h2v1h-2zM386 112h1v1h-1zM396 112h3v1h-3zM347 113h17v1h-17zM371 113h1v1h-1zM375 113h3v1h-3zM379 113h1v1h-1zM381 113h1v1h-1zM388 113h1v1h-1zM395 113h2v1h-2zM436 113h1v1h-1zM347 114h16v1h-16zM368 114h1v1h-1zM371 114h1v1h-1zM374 114h2v1h-2zM381 114h1v1h-1zM386 114h2v1h-2zM395 114h2v1h-2zM398 114h1v1h-1zM404 114h1v1h-1zM346 115h18v1h-18zM368 115h1v1h-1zM372 115h1v1h-1zM382 115h1v1h-1zM387 115h1v1h-1zM392 115h1v1h-1zM394 115h1v1h-1zM400 115h2v1h-2zM346 116h17v1h-17zM366 116h1v1h-1zM371 116h1v1h-1zM387 116h1v1h-1zM389 116h1v1h-1zM394 116h1v1h-1zM400 116h1v1h-1zM344 117h1v1h-1zM346 117h18v1h-18zM368 117h1v1h-1zM371 117h1v1h-1zM375 117h1v1h-1zM378 117h1v1h-1zM384 117h1v1h-1zM390 117h1v1h-1zM347 118h17v1h-17zM373 118h2v1h-2zM378 118h1v1h-1zM382 118h1v1h-1zM386 118h3v1h-3zM390 118h1v1h-1zM347 119h17v1h-17zM367 119h1v1h-1zM373 119h1v1h-1zM380 119h1v1h-1zM385 119h1v1h-1zM391 119h1v1h-1zM396 119h1v1h-1zM402 119h1v1h-1zM347 120h15v1h-15zM378 120h1v1h-1zM381 120h1v1h-1zM391 120h1v1h-1zM397 120h2v1h-2zM349 121h15v1h-15zM379 121h2v1h-2zM382 121h1v1h-1zM384 121h1v1h-1zM386 121h1v1h-1zM349 122h13v1h-13zM369 122h1v1h-1zM386 122h1v1h-1zM389 122h1v1h-1zM392 122h1v1h-1zM348 123h13v1h-13zM372 123h1v1h-1zM376 123h1v1h-1zM380 123h1v1h-1zM385 123h1v1h-1z" fill="#000"/>
<rect x="338.1" y="36.9" width="104.5" height="88.2" fill="none" stroke="#000" stroke-width="1.1"/>
<path d="M366.9 36.9V125.1 M338.1 94.2H442.6" stroke="#000" stroke-width="1.1"/>
<path d="M338.1 125.1v3.5M345.96 125.1v2M350.56 125.1v2M353.83 125.1v2M356.36 125.1v2M358.43 125.1v2M360.18 125.1v2M361.69 125.1v2M363.03 125.1v2M364.23 125.1v3.5M372.09 125.1v2M376.69 125.1v2M379.95 125.1v2M382.49 125.1v2M384.55 125.1v2M386.3 125.1v2M387.82 125.1v2M389.15 125.1v2M390.35 125.1v3.5M398.21 125.1v2M402.81 125.1v2M406.08 125.1v2M408.61 125.1v2M410.68 125.1v2M412.43 125.1v2M413.94 125.1v2M415.28 125.1v2M416.48 125.1v3.5M424.34 125.1v2M428.94 125.1v2M432.2 125.1v2M434.74 125.1v2M436.8 125.1v2M438.55 125.1v2M440.07 125.1v2M441.4 125.1v2M442.6 125.1v3.5M338.1 125.1h-3.5M338.1 118.46h-2M338.1 114.58h-2M338.1 111.82h-2M338.1 109.69h-2M338.1 107.94h-2M338.1 106.47h-2M338.1 105.19h-2M338.1 104.06h-2M338.1 103.05h-3.5M338.1 96.41h-2M338.1 92.53h-2M338.1 89.77h-2M338.1 87.64h-2M338.1 85.89h-2M338.1 84.42h-2M338.1 83.14h-2M338.1 82.01h-2M338.1 81h-3.5M338.1 74.36h-2M338.1 70.48h-2M338.1 67.72h-2M338.1 65.59h-2M338.1 63.84h-2M338.1 62.37h-2M338.1 61.09h-2M338.1 59.96h-2M338.1 58.95h-3.5M338.1 52.31h-2M338.1 48.43h-2M338.1 45.67h-2M338.1 43.54h-2M338.1 41.79h-2M338.1 40.32h-2M338.1 39.04h-2M338.1 37.91h-2M338.1 36.9h-3.5" stroke="#111" stroke-width="0.9" fill="none"/>
<path d="M391 55H432.5 M415 37.4V75" stroke="#000" stroke-width="1.1"/>
<text transform="translate(411.9,50.5) scale(1.087,1)" font-size="9.2" font-weight="bold" stroke="#000" stroke-width="0.15" text-anchor="end">47.8</text>
<text transform="translate(416.7,50.5) scale(1.087,1)" font-size="9.2" font-weight="bold" stroke="#000" stroke-width="0.15">1.5</text>
<text transform="translate(411.9,68) scale(1.087,1)" font-size="9.2" font-weight="bold" stroke="#000" stroke-width="0.15" text-anchor="end">47.6</text>
<text transform="translate(416.7,68) scale(1.087,1)" font-size="9.2" font-weight="bold" stroke="#000" stroke-width="0.15">3.1</text>
<path d="M114.8 31.1H197.5" stroke="#000" stroke-width="1.3"/>
<text transform="translate(159.2,28.9) scale(1.087,1)" font-size="9.2" font-weight="bold" stroke="#000" stroke-width="0.15" text-anchor="middle">MJ/V</text>
<path d="M109.6 149.2H206" stroke="#000" stroke-width="1.3"/>
<text transform="translate(159.8,146.6) scale(1.087,1)" font-size="9.2" font-weight="bold" stroke="#000" stroke-width="0.15" text-anchor="middle">MJ/D<tspan font-size="6" dy="-2.6">d</tspan></text>
<path d="M115 267H200.2" stroke="#000" stroke-width="1.3"/>
<text transform="translate(157.4,264.6) scale(1.087,1)" font-size="9.2" font-weight="bold" stroke="#000" stroke-width="0.15" text-anchor="middle">MJ/B7</text>
<path d="M117.2 387.7H218.7" stroke="#000" stroke-width="1.3"/>
<text transform="translate(160,384) scale(1.087,1)" font-size="9.2" font-weight="bold" stroke="#000" stroke-width="0.15" text-anchor="middle">MJ/D<tspan font-size="6" dy="-2.6">d</tspan><tspan dy="2.6">/B7</tspan></text>
<path d="M247.8 23.1H356.8" stroke="#000" stroke-width="1.3"/>
<rect x="66.9" y="41.7" width="16.5" height="16.9" fill="#bebebe" stroke="#000" stroke-width="1.3"/>
<path d="M68 69.8H84.3" stroke="#000" stroke-width="2.6"/>
<text transform="translate(97.4,49.9) scale(1.087,1)" font-size="9.2" font-weight="bold" stroke="#000" stroke-width="0.15">B7-1</text>
<text transform="translate(97.4,72.5) scale(1.0,1)" font-size="9.9" font-weight="bold" stroke="#000" stroke-width="0.15">D<tspan font-size="6.3" dy="-3.3">d</tspan></text>
<text x="2.2" y="18.8" font-size="25.6" font-weight="bold">A</text>
<text x="315.3" y="18.5" font-size="25.6" font-weight="bold">B</text>
<text x="316.8" y="184.2" font-size="25.6" font-weight="bold">C</text>
<text transform="translate(12.2,102) rotate(-90)" font-size="12" text-anchor="middle">Cell numbers</text>
<text x="47" y="510.7" font-size="12">log Fluorescence</text>
<text x="218.8" y="507.1" font-size="12">BrDU</text>
<text transform="translate(314.4,69.3) rotate(-90)" font-size="12.4" text-anchor="middle">Ly49D</text>
<path d="M7.55 175 L7.1 499.8 H29" stroke="#000" stroke-width="2.6" fill="none" stroke-linejoin="miter"/>
<polygon points="7.6,168 4.1,175.6 11.1,175.6" fill="#000"/>
<polygon points="35.5,499.9 28.3,496.6 28.3,503.3" fill="#000"/>
<path d="M311.8 97 L309.2 477.2" stroke="#000" stroke-width="3.2" fill="none"/>
<polygon points="311.7,90.9 308.2,97.9 315.3,97.9" fill="#000"/>
<path d="M359.9 189.5H449.0V401.6" fill="none" stroke="#666" stroke-width="1"/>
<path d="M359.9 189.5V401.6H449.0" fill="none" stroke="#222" stroke-width="1.3"/>
<path d="M359.9 401.6h-3M359.9 366.25h-3M359.9 330.9h-3M359.9 295.55h-3M359.9 260.2h-3M359.9 224.85h-3M359.9 189.5h-3M389.8 401.6v3M419.6 401.6v3M449 401.6v3" stroke="#222" stroke-width="1"/>
<text x="347.3" y="405.9" font-size="12" text-anchor="middle">0</text>
<text x="348.2" y="370.55" font-size="12" text-anchor="middle">10</text>
<text x="348.2" y="335.2" font-size="12" text-anchor="middle">20</text>
<text x="348.2" y="299.85" font-size="12" text-anchor="middle">30</text>
<text x="348.2" y="264.5" font-size="12" text-anchor="middle">40</text>
<text x="348.2" y="229.15" font-size="12" text-anchor="middle">50</text>
<text x="348.2" y="193.8" font-size="12" text-anchor="middle">60</text>
<text x="380.5" y="416.8" font-size="11.5" text-anchor="middle">0.6:1</text>
<text x="411.7" y="416.8" font-size="11.5" text-anchor="middle">2:1</text>
<text x="440.6" y="416.8" font-size="11.5" text-anchor="middle">6:1</text>
<text x="401.5" y="446.8" font-size="12" text-anchor="middle">E/T ratio</text>
<text transform="translate(336.2,300) rotate(-90)" font-size="12.5" text-anchor="middle">% Specific lysis</text>
<path d="M374.8 295.2V308.98 M371.8 295.2h6 M371.8 308.98h6 M374.8 316.76V349.99 M371.8 316.76h6 M371.8 349.99h6 M374.8 352.46V382.86 M371.8 352.46h6 M371.8 382.86h6 M374.8 349.99V375.44 M371.8 349.99h6 M371.8 375.44h6 M404.2 330.9V340.44 M401.2 330.9h6 M401.2 340.44h6 M433.8 220.25V248.53 M430.8 220.25h6 M430.8 248.53h6 M433.8 261.26V270.81 M430.8 261.26h6 M430.8 270.81h6 " stroke="#000" stroke-width="1.2" fill="none"/>
<polyline points="374.8,301.56 404.2,247.47 433.8,233.69" fill="none" stroke="#000" stroke-width="1.5"/>
<polyline points="374.8,334.44 404.2,304.74 433.8,267.27" fill="none" stroke="#000" stroke-width="1.5"/>
<polyline points="374.8,361.3 404.2,323.83 433.8,290.25" fill="none" stroke="#000" stroke-width="1.5"/>
<polyline points="374.8,366.96 404.2,330.9 433.8,306.16" fill="none" stroke="#000" stroke-width="1.5"/>
<ellipse cx="374.8" cy="301.56" rx="3.8" ry="5" fill="#000"/>
<ellipse cx="404.2" cy="247.47" rx="3.8" ry="5" fill="#000"/>
<ellipse cx="433.8" cy="233.69" rx="3.8" ry="5" fill="#000"/>
<polygon points="374.8,328.94 370.2,338.74 379.4,338.74" fill="#000"/>
<polygon points="404.2,299.24 399.6,309.04 408.8,309.04" fill="#000"/>
<polygon points="433.8,261.77 429.2,271.57 438.4,271.57" fill="#000"/>
<rect x="371" y="356.7" width="7.6" height="9.2" fill="#000"/>
<rect x="400.4" y="319.23" width="7.6" height="9.2" fill="#000"/>
<rect x="430" y="285.65" width="7.6" height="9.2" fill="#000"/>
<polygon points="374.8,361.96 379.2,366.96 374.8,371.96 370.4,366.96" fill="#000"/>
<polygon points="404.2,325.9 408.6,330.9 404.2,335.9 399.8,330.9" fill="#000"/>
<polygon points="433.8,301.16 438.2,306.16 433.8,311.16 429.4,306.16" fill="#000"/>
<path d="M373.4 277.6L373.4 283.4M370.89 279.05L375.91 281.95M370.89 281.95L375.91 279.05M398.7 228.2L398.7 234M396.19 229.65L401.21 232.55M396.19 232.55L401.21 229.65M406.3 228.2L406.3 234M403.79 229.65L408.81 232.55M403.79 232.55L408.81 229.65M430.9 204.8L430.9 210.6M428.39 206.25L433.41 209.15M428.39 209.15L433.41 206.25M438.4 204.8L438.4 210.6M435.89 206.25L440.91 209.15M435.89 209.15L440.91 206.25" stroke="#555" stroke-width="1.15" fill="none" stroke-linecap="round"/>
<circle cx="460.2" cy="230.2" r="4.6" fill="#000"/>
<polygon points="462.4,256 456.9,266.2 467.9,266.2" fill="#000"/>
<rect x="458.1" y="276.9" width="8.4" height="8.4" fill="#000"/>
<polygon points="462.7,295.9 467.8,301.5 462.7,307.2 457.6,301.5" fill="#000"/>
<text transform="translate(475.6,234) scale(1.02,1)" font-size="9.2" font-weight="bold" stroke="#000" stroke-width="0.15">MJ/D<tspan font-size="6" dy="-2.6">d</tspan><tspan dy="2.6">/B7</tspan></text>
<text transform="translate(476.6,263.7) scale(1.087,1)" font-size="9.2" font-weight="bold" stroke="#000" stroke-width="0.15">MJ/B7</text>
<text transform="translate(477.8,287.3) scale(1.087,1)" font-size="9.2" font-weight="bold" stroke="#000" stroke-width="0.15">MJ/D<tspan font-size="6" dy="-2.6">d</tspan></text>
<text transform="translate(476.6,304.3) scale(1.087,1)" font-size="9.2" font-weight="bold" stroke="#000" stroke-width="0.15">MJ/V</text>
</svg></body></html>
